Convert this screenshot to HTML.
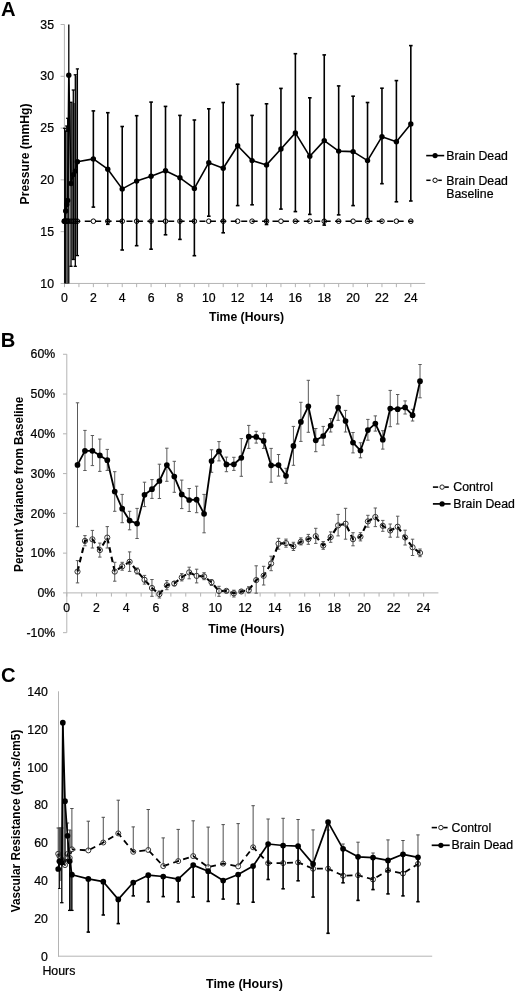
<!DOCTYPE html>
<html lang="en">
<head>
<meta charset="utf-8">
<title>Figure: pressure, percent variance and vascular resistance over time</title>
<style>
html,body{margin:0;padding:0;background:#fff;}
svg{display:block;}
svg text{font-family:"Liberation Sans", Helvetica, Arial, sans-serif;fill:#000;}
</style>
</head>
<body>
<svg width="516" height="992" viewBox="0 0 516 992">
<rect x="0" y="0" width="516" height="992" fill="#fff"/>
<g id="chartA">
<text x="1" y="15.8" font-size="20.2" text-anchor="start" font-weight="bold">A</text>
<line x1="64.4" y1="24.4" x2="64.4" y2="283.95" stroke="#b4b4b4" stroke-width="1"/>
<line x1="63.9" y1="283.45" x2="425.2" y2="283.45" stroke="#b4b4b4" stroke-width="1"/>
<line x1="60.6" y1="283.45" x2="64.4" y2="283.45" stroke="#b4b4b4" stroke-width="1"/>
<text x="54" y="287.65" font-size="12" text-anchor="end" font-weight="normal" textLength="13.68" lengthAdjust="spacingAndGlyphs" stroke="#000" stroke-width="0.22">10</text>
<line x1="60.6" y1="231.66" x2="64.4" y2="231.66" stroke="#b4b4b4" stroke-width="1"/>
<text x="54" y="235.86" font-size="12" text-anchor="end" font-weight="normal" textLength="13.68" lengthAdjust="spacingAndGlyphs" stroke="#000" stroke-width="0.22">15</text>
<line x1="60.6" y1="179.87" x2="64.4" y2="179.87" stroke="#b4b4b4" stroke-width="1"/>
<text x="54" y="184.07" font-size="12" text-anchor="end" font-weight="normal" textLength="13.68" lengthAdjust="spacingAndGlyphs" stroke="#000" stroke-width="0.22">20</text>
<line x1="60.6" y1="128.08" x2="64.4" y2="128.08" stroke="#b4b4b4" stroke-width="1"/>
<text x="54" y="132.28" font-size="12" text-anchor="end" font-weight="normal" textLength="13.68" lengthAdjust="spacingAndGlyphs" stroke="#000" stroke-width="0.22">25</text>
<line x1="60.6" y1="76.29" x2="64.4" y2="76.29" stroke="#b4b4b4" stroke-width="1"/>
<text x="54" y="80.49" font-size="12" text-anchor="end" font-weight="normal" textLength="13.68" lengthAdjust="spacingAndGlyphs" stroke="#000" stroke-width="0.22">30</text>
<line x1="60.6" y1="24.5" x2="64.4" y2="24.5" stroke="#b4b4b4" stroke-width="1"/>
<text x="54" y="28.7" font-size="12" text-anchor="end" font-weight="normal" textLength="13.68" lengthAdjust="spacingAndGlyphs" stroke="#000" stroke-width="0.22">35</text>
<line x1="64.5" y1="283.45" x2="64.5" y2="287.15" stroke="#b4b4b4" stroke-width="1"/>
<text x="64.5" y="301.8" font-size="12" text-anchor="middle" font-weight="normal" textLength="6.84" lengthAdjust="spacingAndGlyphs" stroke="#000" stroke-width="0.22">0</text>
<line x1="78.93" y1="283.45" x2="78.93" y2="287.15" stroke="#b4b4b4" stroke-width="1"/>
<line x1="93.36" y1="283.45" x2="93.36" y2="287.15" stroke="#b4b4b4" stroke-width="1"/>
<text x="93.36" y="301.8" font-size="12" text-anchor="middle" font-weight="normal" textLength="6.84" lengthAdjust="spacingAndGlyphs" stroke="#000" stroke-width="0.22">2</text>
<line x1="107.79" y1="283.45" x2="107.79" y2="287.15" stroke="#b4b4b4" stroke-width="1"/>
<line x1="122.22" y1="283.45" x2="122.22" y2="287.15" stroke="#b4b4b4" stroke-width="1"/>
<text x="122.22" y="301.8" font-size="12" text-anchor="middle" font-weight="normal" textLength="6.84" lengthAdjust="spacingAndGlyphs" stroke="#000" stroke-width="0.22">4</text>
<line x1="136.65" y1="283.45" x2="136.65" y2="287.15" stroke="#b4b4b4" stroke-width="1"/>
<line x1="151.08" y1="283.45" x2="151.08" y2="287.15" stroke="#b4b4b4" stroke-width="1"/>
<text x="151.08" y="301.8" font-size="12" text-anchor="middle" font-weight="normal" textLength="6.84" lengthAdjust="spacingAndGlyphs" stroke="#000" stroke-width="0.22">6</text>
<line x1="165.51" y1="283.45" x2="165.51" y2="287.15" stroke="#b4b4b4" stroke-width="1"/>
<line x1="179.94" y1="283.45" x2="179.94" y2="287.15" stroke="#b4b4b4" stroke-width="1"/>
<text x="179.94" y="301.8" font-size="12" text-anchor="middle" font-weight="normal" textLength="6.84" lengthAdjust="spacingAndGlyphs" stroke="#000" stroke-width="0.22">8</text>
<line x1="194.37" y1="283.45" x2="194.37" y2="287.15" stroke="#b4b4b4" stroke-width="1"/>
<line x1="208.8" y1="283.45" x2="208.8" y2="287.15" stroke="#b4b4b4" stroke-width="1"/>
<text x="208.8" y="301.8" font-size="12" text-anchor="middle" font-weight="normal" textLength="13.68" lengthAdjust="spacingAndGlyphs" stroke="#000" stroke-width="0.22">10</text>
<line x1="223.23" y1="283.45" x2="223.23" y2="287.15" stroke="#b4b4b4" stroke-width="1"/>
<line x1="237.66" y1="283.45" x2="237.66" y2="287.15" stroke="#b4b4b4" stroke-width="1"/>
<text x="237.66" y="301.8" font-size="12" text-anchor="middle" font-weight="normal" textLength="13.68" lengthAdjust="spacingAndGlyphs" stroke="#000" stroke-width="0.22">12</text>
<line x1="252.09" y1="283.45" x2="252.09" y2="287.15" stroke="#b4b4b4" stroke-width="1"/>
<line x1="266.52" y1="283.45" x2="266.52" y2="287.15" stroke="#b4b4b4" stroke-width="1"/>
<text x="266.52" y="301.8" font-size="12" text-anchor="middle" font-weight="normal" textLength="13.68" lengthAdjust="spacingAndGlyphs" stroke="#000" stroke-width="0.22">14</text>
<line x1="280.95" y1="283.45" x2="280.95" y2="287.15" stroke="#b4b4b4" stroke-width="1"/>
<line x1="295.38" y1="283.45" x2="295.38" y2="287.15" stroke="#b4b4b4" stroke-width="1"/>
<text x="295.38" y="301.8" font-size="12" text-anchor="middle" font-weight="normal" textLength="13.68" lengthAdjust="spacingAndGlyphs" stroke="#000" stroke-width="0.22">16</text>
<line x1="309.81" y1="283.45" x2="309.81" y2="287.15" stroke="#b4b4b4" stroke-width="1"/>
<line x1="324.24" y1="283.45" x2="324.24" y2="287.15" stroke="#b4b4b4" stroke-width="1"/>
<text x="324.24" y="301.8" font-size="12" text-anchor="middle" font-weight="normal" textLength="13.68" lengthAdjust="spacingAndGlyphs" stroke="#000" stroke-width="0.22">18</text>
<line x1="338.67" y1="283.45" x2="338.67" y2="287.15" stroke="#b4b4b4" stroke-width="1"/>
<line x1="353.1" y1="283.45" x2="353.1" y2="287.15" stroke="#b4b4b4" stroke-width="1"/>
<text x="353.1" y="301.8" font-size="12" text-anchor="middle" font-weight="normal" textLength="13.68" lengthAdjust="spacingAndGlyphs" stroke="#000" stroke-width="0.22">20</text>
<line x1="367.53" y1="283.45" x2="367.53" y2="287.15" stroke="#b4b4b4" stroke-width="1"/>
<line x1="381.96" y1="283.45" x2="381.96" y2="287.15" stroke="#b4b4b4" stroke-width="1"/>
<text x="381.96" y="301.8" font-size="12" text-anchor="middle" font-weight="normal" textLength="13.68" lengthAdjust="spacingAndGlyphs" stroke="#000" stroke-width="0.22">22</text>
<line x1="396.39" y1="283.45" x2="396.39" y2="287.15" stroke="#b4b4b4" stroke-width="1"/>
<line x1="410.82" y1="283.45" x2="410.82" y2="287.15" stroke="#b4b4b4" stroke-width="1"/>
<text x="410.82" y="301.8" font-size="12" text-anchor="middle" font-weight="normal" textLength="13.68" lengthAdjust="spacingAndGlyphs" stroke="#000" stroke-width="0.22">24</text>
<text x="246.5" y="321.2" font-size="12" text-anchor="middle" font-weight="bold" textLength="75.2" lengthAdjust="spacingAndGlyphs">Time (Hours)</text>
<text x="29.3" y="154" font-size="12" text-anchor="middle" font-weight="bold" transform="rotate(-90 29.3 154)" textLength="100.8" lengthAdjust="spacingAndGlyphs">Pressure (mmHg)</text>
<rect x="71.2" y="103" width="3.8" height="156.5" fill="#6a6a6a"/>
<rect x="75.6" y="76" width="1.6" height="179.6" fill="#777"/>
<line x1="63.9" y1="221.2" x2="412.9" y2="221.2" stroke="#000" stroke-width="1.5" stroke-dasharray="6 4.43"/>
<line x1="64.7" y1="128.3" x2="64.7" y2="283.45" stroke="#000" stroke-width="1.3"/>
<line x1="63.1" y1="128.3" x2="66.3" y2="128.3" stroke="#000" stroke-width="1.3"/>
<line x1="65.7" y1="131" x2="65.7" y2="283.45" stroke="#000" stroke-width="1.3"/>
<line x1="64.1" y1="131" x2="67.3" y2="131" stroke="#000" stroke-width="1.3"/>
<line x1="66.75" y1="126" x2="66.75" y2="283.45" stroke="#000" stroke-width="1.3"/>
<line x1="65.15" y1="126" x2="68.35" y2="126" stroke="#000" stroke-width="1.3"/>
<line x1="67.7" y1="118.3" x2="67.7" y2="283.45" stroke="#000" stroke-width="1.3"/>
<line x1="66.1" y1="118.3" x2="69.3" y2="118.3" stroke="#000" stroke-width="1.3"/>
<line x1="68.8" y1="24.4" x2="68.8" y2="283.45" stroke="#000" stroke-width="1.3"/>
<line x1="71" y1="102.3" x2="71" y2="266.3" stroke="#000" stroke-width="1.3"/>
<line x1="69.4" y1="102.3" x2="72.6" y2="102.3" stroke="#000" stroke-width="1.3"/>
<line x1="69.4" y1="266.3" x2="72.6" y2="266.3" stroke="#000" stroke-width="1.3"/>
<line x1="73.3" y1="90" x2="73.3" y2="259.5" stroke="#000" stroke-width="1.3"/>
<line x1="71.7" y1="90" x2="74.9" y2="90" stroke="#000" stroke-width="1.3"/>
<line x1="71.7" y1="259.5" x2="74.9" y2="259.5" stroke="#000" stroke-width="1.3"/>
<line x1="75.3" y1="74.8" x2="75.3" y2="266.3" stroke="#000" stroke-width="1.3"/>
<line x1="73.7" y1="74.8" x2="76.9" y2="74.8" stroke="#000" stroke-width="1.3"/>
<line x1="73.7" y1="266.3" x2="76.9" y2="266.3" stroke="#000" stroke-width="1.3"/>
<line x1="77.4" y1="68.9" x2="77.4" y2="255.6" stroke="#000" stroke-width="1.3"/>
<line x1="75.8" y1="68.9" x2="79" y2="68.9" stroke="#000" stroke-width="1.3"/>
<line x1="75.8" y1="255.6" x2="79" y2="255.6" stroke="#000" stroke-width="1.3"/>
<line x1="93.36" y1="110.9" x2="93.36" y2="207.1" stroke="#000" stroke-width="1.6"/>
<line x1="91.56" y1="110.9" x2="95.16" y2="110.9" stroke="#000" stroke-width="1.6"/>
<line x1="91.56" y1="207.1" x2="95.16" y2="207.1" stroke="#000" stroke-width="1.6"/>
<line x1="107.79" y1="112.7" x2="107.79" y2="224.3" stroke="#000" stroke-width="1.6"/>
<line x1="105.99" y1="112.7" x2="109.59" y2="112.7" stroke="#000" stroke-width="1.6"/>
<line x1="105.99" y1="224.3" x2="109.59" y2="224.3" stroke="#000" stroke-width="1.6"/>
<line x1="122.22" y1="126.5" x2="122.22" y2="250" stroke="#000" stroke-width="1.6"/>
<line x1="120.42" y1="126.5" x2="124.02" y2="126.5" stroke="#000" stroke-width="1.6"/>
<line x1="120.42" y1="250" x2="124.02" y2="250" stroke="#000" stroke-width="1.6"/>
<line x1="136.65" y1="115.7" x2="136.65" y2="245.7" stroke="#000" stroke-width="1.6"/>
<line x1="134.85" y1="115.7" x2="138.45" y2="115.7" stroke="#000" stroke-width="1.6"/>
<line x1="134.85" y1="245.7" x2="138.45" y2="245.7" stroke="#000" stroke-width="1.6"/>
<line x1="151.08" y1="102.1" x2="151.08" y2="249.2" stroke="#000" stroke-width="1.6"/>
<line x1="149.28" y1="102.1" x2="152.88" y2="102.1" stroke="#000" stroke-width="1.6"/>
<line x1="149.28" y1="249.2" x2="152.88" y2="249.2" stroke="#000" stroke-width="1.6"/>
<line x1="165.51" y1="106.4" x2="165.51" y2="234.8" stroke="#000" stroke-width="1.6"/>
<line x1="163.71" y1="106.4" x2="167.31" y2="106.4" stroke="#000" stroke-width="1.6"/>
<line x1="163.71" y1="234.8" x2="167.31" y2="234.8" stroke="#000" stroke-width="1.6"/>
<line x1="179.94" y1="115.4" x2="179.94" y2="239.4" stroke="#000" stroke-width="1.6"/>
<line x1="178.14" y1="115.4" x2="181.74" y2="115.4" stroke="#000" stroke-width="1.6"/>
<line x1="178.14" y1="239.4" x2="181.74" y2="239.4" stroke="#000" stroke-width="1.6"/>
<line x1="194.37" y1="120" x2="194.37" y2="255.7" stroke="#000" stroke-width="1.6"/>
<line x1="192.57" y1="120" x2="196.17" y2="120" stroke="#000" stroke-width="1.6"/>
<line x1="192.57" y1="255.7" x2="196.17" y2="255.7" stroke="#000" stroke-width="1.6"/>
<line x1="208.8" y1="108.8" x2="208.8" y2="216.2" stroke="#000" stroke-width="1.6"/>
<line x1="207" y1="108.8" x2="210.6" y2="108.8" stroke="#000" stroke-width="1.6"/>
<line x1="207" y1="216.2" x2="210.6" y2="216.2" stroke="#000" stroke-width="1.6"/>
<line x1="223.23" y1="102.5" x2="223.23" y2="232.8" stroke="#000" stroke-width="1.6"/>
<line x1="221.43" y1="102.5" x2="225.03" y2="102.5" stroke="#000" stroke-width="1.6"/>
<line x1="221.43" y1="232.8" x2="225.03" y2="232.8" stroke="#000" stroke-width="1.6"/>
<line x1="237.66" y1="84.2" x2="237.66" y2="205.6" stroke="#000" stroke-width="1.6"/>
<line x1="235.86" y1="84.2" x2="239.46" y2="84.2" stroke="#000" stroke-width="1.6"/>
<line x1="235.86" y1="205.6" x2="239.46" y2="205.6" stroke="#000" stroke-width="1.6"/>
<line x1="252.09" y1="115.4" x2="252.09" y2="204.8" stroke="#000" stroke-width="1.6"/>
<line x1="250.29" y1="115.4" x2="253.89" y2="115.4" stroke="#000" stroke-width="1.6"/>
<line x1="250.29" y1="204.8" x2="253.89" y2="204.8" stroke="#000" stroke-width="1.6"/>
<line x1="266.52" y1="103.8" x2="266.52" y2="224.5" stroke="#000" stroke-width="1.6"/>
<line x1="264.72" y1="103.8" x2="268.32" y2="103.8" stroke="#000" stroke-width="1.6"/>
<line x1="264.72" y1="224.5" x2="268.32" y2="224.5" stroke="#000" stroke-width="1.6"/>
<line x1="280.95" y1="88.4" x2="280.95" y2="209.1" stroke="#000" stroke-width="1.6"/>
<line x1="279.15" y1="88.4" x2="282.75" y2="88.4" stroke="#000" stroke-width="1.6"/>
<line x1="279.15" y1="209.1" x2="282.75" y2="209.1" stroke="#000" stroke-width="1.6"/>
<line x1="295.38" y1="53.7" x2="295.38" y2="211.6" stroke="#000" stroke-width="1.6"/>
<line x1="293.58" y1="53.7" x2="297.18" y2="53.7" stroke="#000" stroke-width="1.6"/>
<line x1="293.58" y1="211.6" x2="297.18" y2="211.6" stroke="#000" stroke-width="1.6"/>
<line x1="309.81" y1="97.8" x2="309.81" y2="214.4" stroke="#000" stroke-width="1.6"/>
<line x1="308.01" y1="97.8" x2="311.61" y2="97.8" stroke="#000" stroke-width="1.6"/>
<line x1="308.01" y1="214.4" x2="311.61" y2="214.4" stroke="#000" stroke-width="1.6"/>
<line x1="324.24" y1="54.9" x2="324.24" y2="225.1" stroke="#000" stroke-width="1.6"/>
<line x1="322.44" y1="54.9" x2="326.04" y2="54.9" stroke="#000" stroke-width="1.6"/>
<line x1="322.44" y1="225.1" x2="326.04" y2="225.1" stroke="#000" stroke-width="1.6"/>
<line x1="338.67" y1="85.9" x2="338.67" y2="214.9" stroke="#000" stroke-width="1.6"/>
<line x1="336.87" y1="85.9" x2="340.47" y2="85.9" stroke="#000" stroke-width="1.6"/>
<line x1="336.87" y1="214.9" x2="340.47" y2="214.9" stroke="#000" stroke-width="1.6"/>
<line x1="353.1" y1="96.2" x2="353.1" y2="205.6" stroke="#000" stroke-width="1.6"/>
<line x1="351.3" y1="96.2" x2="354.9" y2="96.2" stroke="#000" stroke-width="1.6"/>
<line x1="351.3" y1="205.6" x2="354.9" y2="205.6" stroke="#000" stroke-width="1.6"/>
<line x1="367.53" y1="102.5" x2="367.53" y2="218.7" stroke="#000" stroke-width="1.6"/>
<line x1="365.73" y1="102.5" x2="369.33" y2="102.5" stroke="#000" stroke-width="1.6"/>
<line x1="365.73" y1="218.7" x2="369.33" y2="218.7" stroke="#000" stroke-width="1.6"/>
<line x1="381.96" y1="88.2" x2="381.96" y2="183.7" stroke="#000" stroke-width="1.6"/>
<line x1="380.16" y1="88.2" x2="383.76" y2="88.2" stroke="#000" stroke-width="1.6"/>
<line x1="380.16" y1="183.7" x2="383.76" y2="183.7" stroke="#000" stroke-width="1.6"/>
<line x1="396.39" y1="80.6" x2="396.39" y2="201.8" stroke="#000" stroke-width="1.6"/>
<line x1="394.59" y1="80.6" x2="398.19" y2="80.6" stroke="#000" stroke-width="1.6"/>
<line x1="394.59" y1="201.8" x2="398.19" y2="201.8" stroke="#000" stroke-width="1.6"/>
<line x1="410.82" y1="45.6" x2="410.82" y2="201" stroke="#000" stroke-width="1.6"/>
<line x1="409.02" y1="45.6" x2="412.62" y2="45.6" stroke="#000" stroke-width="1.6"/>
<line x1="409.02" y1="201" x2="412.62" y2="201" stroke="#000" stroke-width="1.6"/>
<rect x="66.2" y="132" width="1.4" height="151.4" fill="#777"/>
<polyline points="64.7,221.2 65.7,211 66.75,204.5 67.7,200.5 68.8,75.2 71,183.5 73.3,174.6 75.3,171.1 77.4,161.8 93.36,158.9 107.79,169.2 122.22,188.9 136.65,181.1 151.08,176.3 165.51,170.8 179.94,177.8 194.37,188.4 208.8,162.7 223.23,168.2 237.66,145.8 252.09,160.6 266.52,164.9 280.95,149 295.38,132.9 309.81,156.3 324.24,140.6 338.67,151.1 353.1,151.6 367.53,160.6 381.96,136.7 396.39,141.7 410.82,123.9" fill="none" stroke="#000" stroke-width="1.6" stroke-linejoin="round"/>
<circle cx="64.7" cy="221.2" r="2.7" fill="#000"/>
<circle cx="65.7" cy="211" r="2.7" fill="#000"/>
<circle cx="66.75" cy="204.5" r="2.7" fill="#000"/>
<circle cx="67.7" cy="200.5" r="2.7" fill="#000"/>
<circle cx="68.8" cy="75.2" r="2.7" fill="#000"/>
<circle cx="71" cy="183.5" r="2.7" fill="#000"/>
<circle cx="73.3" cy="174.6" r="2.7" fill="#000"/>
<circle cx="75.3" cy="171.1" r="2.7" fill="#000"/>
<circle cx="77.4" cy="161.8" r="2.7" fill="#000"/>
<circle cx="93.36" cy="158.9" r="2.7" fill="#000"/>
<circle cx="107.79" cy="169.2" r="2.7" fill="#000"/>
<circle cx="122.22" cy="188.9" r="2.7" fill="#000"/>
<circle cx="136.65" cy="181.1" r="2.7" fill="#000"/>
<circle cx="151.08" cy="176.3" r="2.7" fill="#000"/>
<circle cx="165.51" cy="170.8" r="2.7" fill="#000"/>
<circle cx="179.94" cy="177.8" r="2.7" fill="#000"/>
<circle cx="194.37" cy="188.4" r="2.7" fill="#000"/>
<circle cx="208.8" cy="162.7" r="2.7" fill="#000"/>
<circle cx="223.23" cy="168.2" r="2.7" fill="#000"/>
<circle cx="237.66" cy="145.8" r="2.7" fill="#000"/>
<circle cx="252.09" cy="160.6" r="2.7" fill="#000"/>
<circle cx="266.52" cy="164.9" r="2.7" fill="#000"/>
<circle cx="280.95" cy="149" r="2.7" fill="#000"/>
<circle cx="295.38" cy="132.9" r="2.7" fill="#000"/>
<circle cx="309.81" cy="156.3" r="2.7" fill="#000"/>
<circle cx="324.24" cy="140.6" r="2.7" fill="#000"/>
<circle cx="338.67" cy="151.1" r="2.7" fill="#000"/>
<circle cx="353.1" cy="151.6" r="2.7" fill="#000"/>
<circle cx="367.53" cy="160.6" r="2.7" fill="#000"/>
<circle cx="381.96" cy="136.7" r="2.7" fill="#000"/>
<circle cx="396.39" cy="141.7" r="2.7" fill="#000"/>
<circle cx="410.82" cy="123.9" r="2.7" fill="#000"/>
<circle cx="64.7" cy="221.2" r="2.3" fill="none" stroke="#000" stroke-width="1"/>
<circle cx="65.7" cy="221.2" r="2.3" fill="none" stroke="#000" stroke-width="1"/>
<circle cx="66.75" cy="221.2" r="2.3" fill="none" stroke="#000" stroke-width="1"/>
<circle cx="67.7" cy="221.2" r="2.3" fill="none" stroke="#000" stroke-width="1"/>
<circle cx="68.8" cy="221.2" r="2.3" fill="none" stroke="#000" stroke-width="1"/>
<circle cx="71" cy="221.2" r="2.3" fill="none" stroke="#000" stroke-width="1"/>
<circle cx="73.3" cy="221.2" r="2.3" fill="none" stroke="#000" stroke-width="1"/>
<circle cx="75.3" cy="221.2" r="2.3" fill="none" stroke="#000" stroke-width="1"/>
<circle cx="77.4" cy="221.2" r="2.3" fill="none" stroke="#000" stroke-width="1"/>
<circle cx="93.36" cy="221.2" r="2.3" fill="none" stroke="#000" stroke-width="1"/>
<circle cx="107.79" cy="221.2" r="2.3" fill="none" stroke="#000" stroke-width="1"/>
<circle cx="122.22" cy="221.2" r="2.3" fill="none" stroke="#000" stroke-width="1"/>
<circle cx="136.65" cy="221.2" r="2.3" fill="none" stroke="#000" stroke-width="1"/>
<circle cx="151.08" cy="221.2" r="2.3" fill="none" stroke="#000" stroke-width="1"/>
<circle cx="165.51" cy="221.2" r="2.3" fill="none" stroke="#000" stroke-width="1"/>
<circle cx="179.94" cy="221.2" r="2.3" fill="none" stroke="#000" stroke-width="1"/>
<circle cx="194.37" cy="221.2" r="2.3" fill="none" stroke="#000" stroke-width="1"/>
<circle cx="208.8" cy="221.2" r="2.3" fill="none" stroke="#000" stroke-width="1"/>
<circle cx="223.23" cy="221.2" r="2.3" fill="none" stroke="#000" stroke-width="1"/>
<circle cx="237.66" cy="221.2" r="2.3" fill="none" stroke="#000" stroke-width="1"/>
<circle cx="252.09" cy="221.2" r="2.3" fill="none" stroke="#000" stroke-width="1"/>
<circle cx="266.52" cy="221.2" r="2.3" fill="none" stroke="#000" stroke-width="1"/>
<circle cx="280.95" cy="221.2" r="2.3" fill="none" stroke="#000" stroke-width="1"/>
<circle cx="295.38" cy="221.2" r="2.3" fill="none" stroke="#000" stroke-width="1"/>
<circle cx="309.81" cy="221.2" r="2.3" fill="none" stroke="#000" stroke-width="1"/>
<circle cx="324.24" cy="221.2" r="2.3" fill="none" stroke="#000" stroke-width="1"/>
<circle cx="338.67" cy="221.2" r="2.3" fill="none" stroke="#000" stroke-width="1"/>
<circle cx="353.1" cy="221.2" r="2.3" fill="none" stroke="#000" stroke-width="1"/>
<circle cx="367.53" cy="221.2" r="2.3" fill="none" stroke="#000" stroke-width="1"/>
<circle cx="381.96" cy="221.2" r="2.3" fill="none" stroke="#000" stroke-width="1"/>
<circle cx="396.39" cy="221.2" r="2.3" fill="none" stroke="#000" stroke-width="1"/>
<circle cx="410.82" cy="221.2" r="2.3" fill="none" stroke="#000" stroke-width="1"/>
<circle cx="64.2" cy="221.2" r="2.7" fill="#000"/>
<line x1="426.2" y1="155.6" x2="444.2" y2="155.6" stroke="#000" stroke-width="1.6"/>
<circle cx="435.1" cy="155.6" r="2.6" fill="#000"/>
<text x="446.3" y="160" font-size="12" text-anchor="start" font-weight="normal" textLength="61.54" lengthAdjust="spacingAndGlyphs" stroke="#000" stroke-width="0.22">Brain Dead</text>
<line x1="426.3" y1="180.3" x2="430.6" y2="180.3" stroke="#000" stroke-width="1.5"/>
<line x1="438.2" y1="180.3" x2="441.8" y2="180.3" stroke="#000" stroke-width="1.5"/>
<circle cx="435.1" cy="180.3" r="2.2" fill="#fff" stroke="#000" stroke-width="1"/>
<text x="446.3" y="184.6" font-size="12" text-anchor="start" font-weight="normal" textLength="61.54" lengthAdjust="spacingAndGlyphs" stroke="#000" stroke-width="0.22">Brain Dead</text>
<text x="446.3" y="197.9" font-size="12" text-anchor="start" font-weight="normal" textLength="47.18" lengthAdjust="spacingAndGlyphs" stroke="#000" stroke-width="0.22">Baseline</text>
</g>
<g id="chartB">
<text x="0.8" y="347" font-size="20.2" text-anchor="start" font-weight="bold">B</text>
<line x1="66.8" y1="354.2" x2="66.8" y2="632.6" stroke="#b4b4b4" stroke-width="1"/>
<line x1="66.3" y1="592.9" x2="438.4" y2="592.9" stroke="#b4b4b4" stroke-width="1"/>
<line x1="63" y1="632.67" x2="66.8" y2="632.67" stroke="#b4b4b4" stroke-width="1"/>
<text x="55.2" y="636.87" font-size="12" text-anchor="end" font-weight="normal" textLength="28.72" lengthAdjust="spacingAndGlyphs" stroke="#000" stroke-width="0.22">-10%</text>
<line x1="63" y1="592.9" x2="66.8" y2="592.9" stroke="#b4b4b4" stroke-width="1"/>
<text x="55.2" y="597.1" font-size="12" text-anchor="end" font-weight="normal" textLength="17.78" lengthAdjust="spacingAndGlyphs" stroke="#000" stroke-width="0.22">0%</text>
<line x1="63" y1="553.13" x2="66.8" y2="553.13" stroke="#b4b4b4" stroke-width="1"/>
<text x="55.2" y="557.33" font-size="12" text-anchor="end" font-weight="normal" textLength="24.62" lengthAdjust="spacingAndGlyphs" stroke="#000" stroke-width="0.22">10%</text>
<line x1="63" y1="513.36" x2="66.8" y2="513.36" stroke="#b4b4b4" stroke-width="1"/>
<text x="55.2" y="517.56" font-size="12" text-anchor="end" font-weight="normal" textLength="24.62" lengthAdjust="spacingAndGlyphs" stroke="#000" stroke-width="0.22">20%</text>
<line x1="63" y1="473.59" x2="66.8" y2="473.59" stroke="#b4b4b4" stroke-width="1"/>
<text x="55.2" y="477.79" font-size="12" text-anchor="end" font-weight="normal" textLength="24.62" lengthAdjust="spacingAndGlyphs" stroke="#000" stroke-width="0.22">30%</text>
<line x1="63" y1="433.82" x2="66.8" y2="433.82" stroke="#b4b4b4" stroke-width="1"/>
<text x="55.2" y="438.02" font-size="12" text-anchor="end" font-weight="normal" textLength="24.62" lengthAdjust="spacingAndGlyphs" stroke="#000" stroke-width="0.22">40%</text>
<line x1="63" y1="394.05" x2="66.8" y2="394.05" stroke="#b4b4b4" stroke-width="1"/>
<text x="55.2" y="398.25" font-size="12" text-anchor="end" font-weight="normal" textLength="24.62" lengthAdjust="spacingAndGlyphs" stroke="#000" stroke-width="0.22">50%</text>
<line x1="63" y1="354.28" x2="66.8" y2="354.28" stroke="#b4b4b4" stroke-width="1"/>
<text x="55.2" y="358.48" font-size="12" text-anchor="end" font-weight="normal" textLength="24.62" lengthAdjust="spacingAndGlyphs" stroke="#000" stroke-width="0.22">60%</text>
<line x1="66.8" y1="592.9" x2="66.8" y2="596.6" stroke="#b4b4b4" stroke-width="1"/>
<text x="66.6" y="611.6" font-size="12" text-anchor="middle" font-weight="normal" textLength="6.84" lengthAdjust="spacingAndGlyphs" stroke="#000" stroke-width="0.22">0</text>
<line x1="81.67" y1="592.9" x2="81.67" y2="596.6" stroke="#b4b4b4" stroke-width="1"/>
<line x1="96.54" y1="592.9" x2="96.54" y2="596.6" stroke="#b4b4b4" stroke-width="1"/>
<text x="96.34" y="611.6" font-size="12" text-anchor="middle" font-weight="normal" textLength="6.84" lengthAdjust="spacingAndGlyphs" stroke="#000" stroke-width="0.22">2</text>
<line x1="111.41" y1="592.9" x2="111.41" y2="596.6" stroke="#b4b4b4" stroke-width="1"/>
<line x1="126.28" y1="592.9" x2="126.28" y2="596.6" stroke="#b4b4b4" stroke-width="1"/>
<text x="126.08" y="611.6" font-size="12" text-anchor="middle" font-weight="normal" textLength="6.84" lengthAdjust="spacingAndGlyphs" stroke="#000" stroke-width="0.22">4</text>
<line x1="141.15" y1="592.9" x2="141.15" y2="596.6" stroke="#b4b4b4" stroke-width="1"/>
<line x1="156.02" y1="592.9" x2="156.02" y2="596.6" stroke="#b4b4b4" stroke-width="1"/>
<text x="155.82" y="611.6" font-size="12" text-anchor="middle" font-weight="normal" textLength="6.84" lengthAdjust="spacingAndGlyphs" stroke="#000" stroke-width="0.22">6</text>
<line x1="170.89" y1="592.9" x2="170.89" y2="596.6" stroke="#b4b4b4" stroke-width="1"/>
<line x1="185.76" y1="592.9" x2="185.76" y2="596.6" stroke="#b4b4b4" stroke-width="1"/>
<text x="185.56" y="611.6" font-size="12" text-anchor="middle" font-weight="normal" textLength="6.84" lengthAdjust="spacingAndGlyphs" stroke="#000" stroke-width="0.22">8</text>
<line x1="200.63" y1="592.9" x2="200.63" y2="596.6" stroke="#b4b4b4" stroke-width="1"/>
<line x1="215.5" y1="592.9" x2="215.5" y2="596.6" stroke="#b4b4b4" stroke-width="1"/>
<text x="215.3" y="611.6" font-size="12" text-anchor="middle" font-weight="normal" textLength="13.68" lengthAdjust="spacingAndGlyphs" stroke="#000" stroke-width="0.22">10</text>
<line x1="230.37" y1="592.9" x2="230.37" y2="596.6" stroke="#b4b4b4" stroke-width="1"/>
<line x1="245.24" y1="592.9" x2="245.24" y2="596.6" stroke="#b4b4b4" stroke-width="1"/>
<text x="245.04" y="611.6" font-size="12" text-anchor="middle" font-weight="normal" textLength="13.68" lengthAdjust="spacingAndGlyphs" stroke="#000" stroke-width="0.22">12</text>
<line x1="260.11" y1="592.9" x2="260.11" y2="596.6" stroke="#b4b4b4" stroke-width="1"/>
<line x1="274.98" y1="592.9" x2="274.98" y2="596.6" stroke="#b4b4b4" stroke-width="1"/>
<text x="274.78" y="611.6" font-size="12" text-anchor="middle" font-weight="normal" textLength="13.68" lengthAdjust="spacingAndGlyphs" stroke="#000" stroke-width="0.22">14</text>
<line x1="289.85" y1="592.9" x2="289.85" y2="596.6" stroke="#b4b4b4" stroke-width="1"/>
<line x1="304.72" y1="592.9" x2="304.72" y2="596.6" stroke="#b4b4b4" stroke-width="1"/>
<text x="304.52" y="611.6" font-size="12" text-anchor="middle" font-weight="normal" textLength="13.68" lengthAdjust="spacingAndGlyphs" stroke="#000" stroke-width="0.22">16</text>
<line x1="319.59" y1="592.9" x2="319.59" y2="596.6" stroke="#b4b4b4" stroke-width="1"/>
<line x1="334.46" y1="592.9" x2="334.46" y2="596.6" stroke="#b4b4b4" stroke-width="1"/>
<text x="334.26" y="611.6" font-size="12" text-anchor="middle" font-weight="normal" textLength="13.68" lengthAdjust="spacingAndGlyphs" stroke="#000" stroke-width="0.22">18</text>
<line x1="349.33" y1="592.9" x2="349.33" y2="596.6" stroke="#b4b4b4" stroke-width="1"/>
<line x1="364.2" y1="592.9" x2="364.2" y2="596.6" stroke="#b4b4b4" stroke-width="1"/>
<text x="364" y="611.6" font-size="12" text-anchor="middle" font-weight="normal" textLength="13.68" lengthAdjust="spacingAndGlyphs" stroke="#000" stroke-width="0.22">20</text>
<line x1="379.07" y1="592.9" x2="379.07" y2="596.6" stroke="#b4b4b4" stroke-width="1"/>
<line x1="393.94" y1="592.9" x2="393.94" y2="596.6" stroke="#b4b4b4" stroke-width="1"/>
<text x="393.74" y="611.6" font-size="12" text-anchor="middle" font-weight="normal" textLength="13.68" lengthAdjust="spacingAndGlyphs" stroke="#000" stroke-width="0.22">22</text>
<line x1="408.81" y1="592.9" x2="408.81" y2="596.6" stroke="#b4b4b4" stroke-width="1"/>
<line x1="423.68" y1="592.9" x2="423.68" y2="596.6" stroke="#b4b4b4" stroke-width="1"/>
<text x="423.48" y="611.6" font-size="12" text-anchor="middle" font-weight="normal" textLength="13.68" lengthAdjust="spacingAndGlyphs" stroke="#000" stroke-width="0.22">24</text>
<text x="246.3" y="633" font-size="12" text-anchor="middle" font-weight="bold" textLength="76.2" lengthAdjust="spacingAndGlyphs">Time (Hours)</text>
<text x="22.6" y="484.3" font-size="12" text-anchor="middle" font-weight="bold" transform="rotate(-90 22.6 484.3)" textLength="175.2" lengthAdjust="spacingAndGlyphs">Percent Variance from Baseline</text>
<line x1="77.5" y1="560.6" x2="77.5" y2="582.9" stroke="#5a5a5a" stroke-width="1"/>
<line x1="75.8" y1="560.6" x2="79.2" y2="560.6" stroke="#5a5a5a" stroke-width="1"/>
<line x1="75.8" y1="582.9" x2="79.2" y2="582.9" stroke="#5a5a5a" stroke-width="1"/>
<line x1="84.95" y1="535.6" x2="84.95" y2="545.8" stroke="#5a5a5a" stroke-width="1"/>
<line x1="83.25" y1="535.6" x2="86.65" y2="535.6" stroke="#5a5a5a" stroke-width="1"/>
<line x1="83.25" y1="545.8" x2="86.65" y2="545.8" stroke="#5a5a5a" stroke-width="1"/>
<line x1="92.39" y1="530.4" x2="92.39" y2="548" stroke="#5a5a5a" stroke-width="1"/>
<line x1="90.69" y1="530.4" x2="94.09" y2="530.4" stroke="#5a5a5a" stroke-width="1"/>
<line x1="90.69" y1="548" x2="94.09" y2="548" stroke="#5a5a5a" stroke-width="1"/>
<line x1="99.84" y1="543.1" x2="99.84" y2="557.1" stroke="#5a5a5a" stroke-width="1"/>
<line x1="98.14" y1="543.1" x2="101.54" y2="543.1" stroke="#5a5a5a" stroke-width="1"/>
<line x1="98.14" y1="557.1" x2="101.54" y2="557.1" stroke="#5a5a5a" stroke-width="1"/>
<line x1="107.28" y1="526.6" x2="107.28" y2="548" stroke="#5a5a5a" stroke-width="1"/>
<line x1="105.58" y1="526.6" x2="108.98" y2="526.6" stroke="#5a5a5a" stroke-width="1"/>
<line x1="105.58" y1="548" x2="108.98" y2="548" stroke="#5a5a5a" stroke-width="1"/>
<line x1="114.73" y1="562.3" x2="114.73" y2="581.2" stroke="#5a5a5a" stroke-width="1"/>
<line x1="113.03" y1="562.3" x2="116.43" y2="562.3" stroke="#5a5a5a" stroke-width="1"/>
<line x1="113.03" y1="581.2" x2="116.43" y2="581.2" stroke="#5a5a5a" stroke-width="1"/>
<line x1="122.18" y1="562.3" x2="122.18" y2="570.2" stroke="#5a5a5a" stroke-width="1"/>
<line x1="120.48" y1="562.3" x2="123.88" y2="562.3" stroke="#5a5a5a" stroke-width="1"/>
<line x1="120.48" y1="570.2" x2="123.88" y2="570.2" stroke="#5a5a5a" stroke-width="1"/>
<line x1="129.62" y1="551.9" x2="129.62" y2="571.4" stroke="#5a5a5a" stroke-width="1"/>
<line x1="127.92" y1="551.9" x2="131.32" y2="551.9" stroke="#5a5a5a" stroke-width="1"/>
<line x1="127.92" y1="571.4" x2="131.32" y2="571.4" stroke="#5a5a5a" stroke-width="1"/>
<line x1="137.07" y1="568" x2="137.07" y2="574" stroke="#5a5a5a" stroke-width="1"/>
<line x1="135.37" y1="568" x2="138.77" y2="568" stroke="#5a5a5a" stroke-width="1"/>
<line x1="135.37" y1="574" x2="138.77" y2="574" stroke="#5a5a5a" stroke-width="1"/>
<line x1="144.51" y1="575.4" x2="144.51" y2="584.1" stroke="#5a5a5a" stroke-width="1"/>
<line x1="142.81" y1="575.4" x2="146.21" y2="575.4" stroke="#5a5a5a" stroke-width="1"/>
<line x1="142.81" y1="584.1" x2="146.21" y2="584.1" stroke="#5a5a5a" stroke-width="1"/>
<line x1="151.96" y1="579.5" x2="151.96" y2="596.3" stroke="#5a5a5a" stroke-width="1"/>
<line x1="150.26" y1="579.5" x2="153.66" y2="579.5" stroke="#5a5a5a" stroke-width="1"/>
<line x1="150.26" y1="596.3" x2="153.66" y2="596.3" stroke="#5a5a5a" stroke-width="1"/>
<line x1="159.41" y1="591" x2="159.41" y2="598" stroke="#5a5a5a" stroke-width="1"/>
<line x1="157.71" y1="591" x2="161.11" y2="591" stroke="#5a5a5a" stroke-width="1"/>
<line x1="157.71" y1="598" x2="161.11" y2="598" stroke="#5a5a5a" stroke-width="1"/>
<line x1="166.85" y1="580.6" x2="166.85" y2="589.7" stroke="#5a5a5a" stroke-width="1"/>
<line x1="165.15" y1="580.6" x2="168.55" y2="580.6" stroke="#5a5a5a" stroke-width="1"/>
<line x1="165.15" y1="589.7" x2="168.55" y2="589.7" stroke="#5a5a5a" stroke-width="1"/>
<line x1="174.3" y1="581.5" x2="174.3" y2="585.8" stroke="#5a5a5a" stroke-width="1"/>
<line x1="172.6" y1="581.5" x2="176" y2="581.5" stroke="#5a5a5a" stroke-width="1"/>
<line x1="172.6" y1="585.8" x2="176" y2="585.8" stroke="#5a5a5a" stroke-width="1"/>
<line x1="181.74" y1="573.6" x2="181.74" y2="580.9" stroke="#5a5a5a" stroke-width="1"/>
<line x1="180.04" y1="573.6" x2="183.44" y2="573.6" stroke="#5a5a5a" stroke-width="1"/>
<line x1="180.04" y1="580.9" x2="183.44" y2="580.9" stroke="#5a5a5a" stroke-width="1"/>
<line x1="189.19" y1="567.2" x2="189.19" y2="578.8" stroke="#5a5a5a" stroke-width="1"/>
<line x1="187.49" y1="567.2" x2="190.89" y2="567.2" stroke="#5a5a5a" stroke-width="1"/>
<line x1="187.49" y1="578.8" x2="190.89" y2="578.8" stroke="#5a5a5a" stroke-width="1"/>
<line x1="196.64" y1="569.2" x2="196.64" y2="582.9" stroke="#5a5a5a" stroke-width="1"/>
<line x1="194.94" y1="569.2" x2="198.34" y2="569.2" stroke="#5a5a5a" stroke-width="1"/>
<line x1="194.94" y1="582.9" x2="198.34" y2="582.9" stroke="#5a5a5a" stroke-width="1"/>
<line x1="204.08" y1="572.7" x2="204.08" y2="579.7" stroke="#5a5a5a" stroke-width="1"/>
<line x1="202.38" y1="572.7" x2="205.78" y2="572.7" stroke="#5a5a5a" stroke-width="1"/>
<line x1="202.38" y1="579.7" x2="205.78" y2="579.7" stroke="#5a5a5a" stroke-width="1"/>
<line x1="211.53" y1="579.7" x2="211.53" y2="585.5" stroke="#5a5a5a" stroke-width="1"/>
<line x1="209.83" y1="579.7" x2="213.23" y2="579.7" stroke="#5a5a5a" stroke-width="1"/>
<line x1="209.83" y1="585.5" x2="213.23" y2="585.5" stroke="#5a5a5a" stroke-width="1"/>
<line x1="218.97" y1="586.3" x2="218.97" y2="596.3" stroke="#5a5a5a" stroke-width="1"/>
<line x1="217.27" y1="586.3" x2="220.67" y2="586.3" stroke="#5a5a5a" stroke-width="1"/>
<line x1="217.27" y1="596.3" x2="220.67" y2="596.3" stroke="#5a5a5a" stroke-width="1"/>
<line x1="226.42" y1="589.4" x2="226.42" y2="592.4" stroke="#5a5a5a" stroke-width="1"/>
<line x1="224.72" y1="589.4" x2="228.12" y2="589.4" stroke="#5a5a5a" stroke-width="1"/>
<line x1="224.72" y1="592.4" x2="228.12" y2="592.4" stroke="#5a5a5a" stroke-width="1"/>
<line x1="233.87" y1="590.2" x2="233.87" y2="597" stroke="#5a5a5a" stroke-width="1"/>
<line x1="232.17" y1="590.2" x2="235.57" y2="590.2" stroke="#5a5a5a" stroke-width="1"/>
<line x1="232.17" y1="597" x2="235.57" y2="597" stroke="#5a5a5a" stroke-width="1"/>
<line x1="241.31" y1="590" x2="241.31" y2="593" stroke="#5a5a5a" stroke-width="1"/>
<line x1="239.61" y1="590" x2="243.01" y2="590" stroke="#5a5a5a" stroke-width="1"/>
<line x1="239.61" y1="593" x2="243.01" y2="593" stroke="#5a5a5a" stroke-width="1"/>
<line x1="248.76" y1="586.7" x2="248.76" y2="592.9" stroke="#5a5a5a" stroke-width="1"/>
<line x1="247.06" y1="586.7" x2="250.46" y2="586.7" stroke="#5a5a5a" stroke-width="1"/>
<line x1="247.06" y1="592.9" x2="250.46" y2="592.9" stroke="#5a5a5a" stroke-width="1"/>
<line x1="256.2" y1="565.8" x2="256.2" y2="593.2" stroke="#5a5a5a" stroke-width="1"/>
<line x1="254.5" y1="565.8" x2="257.9" y2="565.8" stroke="#5a5a5a" stroke-width="1"/>
<line x1="254.5" y1="593.2" x2="257.9" y2="593.2" stroke="#5a5a5a" stroke-width="1"/>
<line x1="263.65" y1="566.3" x2="263.65" y2="585" stroke="#5a5a5a" stroke-width="1"/>
<line x1="261.95" y1="566.3" x2="265.35" y2="566.3" stroke="#5a5a5a" stroke-width="1"/>
<line x1="261.95" y1="585" x2="265.35" y2="585" stroke="#5a5a5a" stroke-width="1"/>
<line x1="271.1" y1="556.2" x2="271.1" y2="570.7" stroke="#5a5a5a" stroke-width="1"/>
<line x1="269.4" y1="556.2" x2="272.8" y2="556.2" stroke="#5a5a5a" stroke-width="1"/>
<line x1="269.4" y1="570.7" x2="272.8" y2="570.7" stroke="#5a5a5a" stroke-width="1"/>
<line x1="278.54" y1="538.3" x2="278.54" y2="549.2" stroke="#5a5a5a" stroke-width="1"/>
<line x1="276.84" y1="538.3" x2="280.24" y2="538.3" stroke="#5a5a5a" stroke-width="1"/>
<line x1="276.84" y1="549.2" x2="280.24" y2="549.2" stroke="#5a5a5a" stroke-width="1"/>
<line x1="285.99" y1="539.1" x2="285.99" y2="547.2" stroke="#5a5a5a" stroke-width="1"/>
<line x1="284.29" y1="539.1" x2="287.69" y2="539.1" stroke="#5a5a5a" stroke-width="1"/>
<line x1="284.29" y1="547.2" x2="287.69" y2="547.2" stroke="#5a5a5a" stroke-width="1"/>
<line x1="293.43" y1="542.3" x2="293.43" y2="550.5" stroke="#5a5a5a" stroke-width="1"/>
<line x1="291.73" y1="542.3" x2="295.13" y2="542.3" stroke="#5a5a5a" stroke-width="1"/>
<line x1="291.73" y1="550.5" x2="295.13" y2="550.5" stroke="#5a5a5a" stroke-width="1"/>
<line x1="300.88" y1="537.9" x2="300.88" y2="544.9" stroke="#5a5a5a" stroke-width="1"/>
<line x1="299.18" y1="537.9" x2="302.58" y2="537.9" stroke="#5a5a5a" stroke-width="1"/>
<line x1="299.18" y1="544.9" x2="302.58" y2="544.9" stroke="#5a5a5a" stroke-width="1"/>
<line x1="308.33" y1="534.4" x2="308.33" y2="544.3" stroke="#5a5a5a" stroke-width="1"/>
<line x1="306.63" y1="534.4" x2="310.03" y2="534.4" stroke="#5a5a5a" stroke-width="1"/>
<line x1="306.63" y1="544.3" x2="310.03" y2="544.3" stroke="#5a5a5a" stroke-width="1"/>
<line x1="315.77" y1="528.3" x2="315.77" y2="543.4" stroke="#5a5a5a" stroke-width="1"/>
<line x1="314.07" y1="528.3" x2="317.47" y2="528.3" stroke="#5a5a5a" stroke-width="1"/>
<line x1="314.07" y1="543.4" x2="317.47" y2="543.4" stroke="#5a5a5a" stroke-width="1"/>
<line x1="323.22" y1="541.5" x2="323.22" y2="549.3" stroke="#5a5a5a" stroke-width="1"/>
<line x1="321.52" y1="541.5" x2="324.92" y2="541.5" stroke="#5a5a5a" stroke-width="1"/>
<line x1="321.52" y1="549.3" x2="324.92" y2="549.3" stroke="#5a5a5a" stroke-width="1"/>
<line x1="330.66" y1="531.9" x2="330.66" y2="542.3" stroke="#5a5a5a" stroke-width="1"/>
<line x1="328.96" y1="531.9" x2="332.36" y2="531.9" stroke="#5a5a5a" stroke-width="1"/>
<line x1="328.96" y1="542.3" x2="332.36" y2="542.3" stroke="#5a5a5a" stroke-width="1"/>
<line x1="338.11" y1="514.4" x2="338.11" y2="535.9" stroke="#5a5a5a" stroke-width="1"/>
<line x1="336.41" y1="514.4" x2="339.81" y2="514.4" stroke="#5a5a5a" stroke-width="1"/>
<line x1="336.41" y1="535.9" x2="339.81" y2="535.9" stroke="#5a5a5a" stroke-width="1"/>
<line x1="345.56" y1="508.3" x2="345.56" y2="539.2" stroke="#5a5a5a" stroke-width="1"/>
<line x1="343.86" y1="508.3" x2="347.26" y2="508.3" stroke="#5a5a5a" stroke-width="1"/>
<line x1="343.86" y1="539.2" x2="347.26" y2="539.2" stroke="#5a5a5a" stroke-width="1"/>
<line x1="353" y1="532.7" x2="353" y2="545.8" stroke="#5a5a5a" stroke-width="1"/>
<line x1="351.3" y1="532.7" x2="354.7" y2="532.7" stroke="#5a5a5a" stroke-width="1"/>
<line x1="351.3" y1="545.8" x2="354.7" y2="545.8" stroke="#5a5a5a" stroke-width="1"/>
<line x1="360.45" y1="532.7" x2="360.45" y2="540.9" stroke="#5a5a5a" stroke-width="1"/>
<line x1="358.75" y1="532.7" x2="362.15" y2="532.7" stroke="#5a5a5a" stroke-width="1"/>
<line x1="358.75" y1="540.9" x2="362.15" y2="540.9" stroke="#5a5a5a" stroke-width="1"/>
<line x1="367.89" y1="515.3" x2="367.89" y2="527.2" stroke="#5a5a5a" stroke-width="1"/>
<line x1="366.19" y1="515.3" x2="369.59" y2="515.3" stroke="#5a5a5a" stroke-width="1"/>
<line x1="366.19" y1="527.2" x2="369.59" y2="527.2" stroke="#5a5a5a" stroke-width="1"/>
<line x1="375.34" y1="508" x2="375.34" y2="526.6" stroke="#5a5a5a" stroke-width="1"/>
<line x1="373.64" y1="508" x2="377.04" y2="508" stroke="#5a5a5a" stroke-width="1"/>
<line x1="373.64" y1="526.6" x2="377.04" y2="526.6" stroke="#5a5a5a" stroke-width="1"/>
<line x1="382.79" y1="520.4" x2="382.79" y2="531.3" stroke="#5a5a5a" stroke-width="1"/>
<line x1="381.09" y1="520.4" x2="384.49" y2="520.4" stroke="#5a5a5a" stroke-width="1"/>
<line x1="381.09" y1="531.3" x2="384.49" y2="531.3" stroke="#5a5a5a" stroke-width="1"/>
<line x1="390.23" y1="524" x2="390.23" y2="537.2" stroke="#5a5a5a" stroke-width="1"/>
<line x1="388.53" y1="524" x2="391.93" y2="524" stroke="#5a5a5a" stroke-width="1"/>
<line x1="388.53" y1="537.2" x2="391.93" y2="537.2" stroke="#5a5a5a" stroke-width="1"/>
<line x1="397.68" y1="516.2" x2="397.68" y2="537.2" stroke="#5a5a5a" stroke-width="1"/>
<line x1="395.98" y1="516.2" x2="399.38" y2="516.2" stroke="#5a5a5a" stroke-width="1"/>
<line x1="395.98" y1="537.2" x2="399.38" y2="537.2" stroke="#5a5a5a" stroke-width="1"/>
<line x1="405.12" y1="530.2" x2="405.12" y2="545" stroke="#5a5a5a" stroke-width="1"/>
<line x1="403.42" y1="530.2" x2="406.82" y2="530.2" stroke="#5a5a5a" stroke-width="1"/>
<line x1="403.42" y1="545" x2="406.82" y2="545" stroke="#5a5a5a" stroke-width="1"/>
<line x1="412.57" y1="539.2" x2="412.57" y2="555.5" stroke="#5a5a5a" stroke-width="1"/>
<line x1="410.87" y1="539.2" x2="414.27" y2="539.2" stroke="#5a5a5a" stroke-width="1"/>
<line x1="410.87" y1="555.5" x2="414.27" y2="555.5" stroke="#5a5a5a" stroke-width="1"/>
<line x1="420.02" y1="549" x2="420.02" y2="556.7" stroke="#5a5a5a" stroke-width="1"/>
<line x1="418.32" y1="549" x2="421.72" y2="549" stroke="#5a5a5a" stroke-width="1"/>
<line x1="418.32" y1="556.7" x2="421.72" y2="556.7" stroke="#5a5a5a" stroke-width="1"/>
<line x1="77.5" y1="402.8" x2="77.5" y2="526.7" stroke="#5a5a5a" stroke-width="1"/>
<line x1="75.8" y1="402.8" x2="79.2" y2="402.8" stroke="#5a5a5a" stroke-width="1"/>
<line x1="75.8" y1="526.7" x2="79.2" y2="526.7" stroke="#5a5a5a" stroke-width="1"/>
<line x1="84.95" y1="430.4" x2="84.95" y2="470.5" stroke="#5a5a5a" stroke-width="1"/>
<line x1="83.25" y1="430.4" x2="86.65" y2="430.4" stroke="#5a5a5a" stroke-width="1"/>
<line x1="83.25" y1="470.5" x2="86.65" y2="470.5" stroke="#5a5a5a" stroke-width="1"/>
<line x1="92.39" y1="435.5" x2="92.39" y2="465.6" stroke="#5a5a5a" stroke-width="1"/>
<line x1="90.69" y1="435.5" x2="94.09" y2="435.5" stroke="#5a5a5a" stroke-width="1"/>
<line x1="90.69" y1="465.6" x2="94.09" y2="465.6" stroke="#5a5a5a" stroke-width="1"/>
<line x1="99.84" y1="439.1" x2="99.84" y2="471.4" stroke="#5a5a5a" stroke-width="1"/>
<line x1="98.14" y1="439.1" x2="101.54" y2="439.1" stroke="#5a5a5a" stroke-width="1"/>
<line x1="98.14" y1="471.4" x2="101.54" y2="471.4" stroke="#5a5a5a" stroke-width="1"/>
<line x1="107.28" y1="449.4" x2="107.28" y2="470.4" stroke="#5a5a5a" stroke-width="1"/>
<line x1="105.58" y1="449.4" x2="108.98" y2="449.4" stroke="#5a5a5a" stroke-width="1"/>
<line x1="105.58" y1="470.4" x2="108.98" y2="470.4" stroke="#5a5a5a" stroke-width="1"/>
<line x1="114.73" y1="471.7" x2="114.73" y2="511.3" stroke="#5a5a5a" stroke-width="1"/>
<line x1="113.03" y1="471.7" x2="116.43" y2="471.7" stroke="#5a5a5a" stroke-width="1"/>
<line x1="113.03" y1="511.3" x2="116.43" y2="511.3" stroke="#5a5a5a" stroke-width="1"/>
<line x1="122.18" y1="494.4" x2="122.18" y2="522.7" stroke="#5a5a5a" stroke-width="1"/>
<line x1="120.48" y1="494.4" x2="123.88" y2="494.4" stroke="#5a5a5a" stroke-width="1"/>
<line x1="120.48" y1="522.7" x2="123.88" y2="522.7" stroke="#5a5a5a" stroke-width="1"/>
<line x1="129.62" y1="511.3" x2="129.62" y2="529.8" stroke="#5a5a5a" stroke-width="1"/>
<line x1="127.92" y1="511.3" x2="131.32" y2="511.3" stroke="#5a5a5a" stroke-width="1"/>
<line x1="127.92" y1="529.8" x2="131.32" y2="529.8" stroke="#5a5a5a" stroke-width="1"/>
<line x1="137.07" y1="508.4" x2="137.07" y2="538.5" stroke="#5a5a5a" stroke-width="1"/>
<line x1="135.37" y1="508.4" x2="138.77" y2="508.4" stroke="#5a5a5a" stroke-width="1"/>
<line x1="135.37" y1="538.5" x2="138.77" y2="538.5" stroke="#5a5a5a" stroke-width="1"/>
<line x1="144.51" y1="482.2" x2="144.51" y2="506.6" stroke="#5a5a5a" stroke-width="1"/>
<line x1="142.81" y1="482.2" x2="146.21" y2="482.2" stroke="#5a5a5a" stroke-width="1"/>
<line x1="142.81" y1="506.6" x2="146.21" y2="506.6" stroke="#5a5a5a" stroke-width="1"/>
<line x1="151.96" y1="479.6" x2="151.96" y2="498.4" stroke="#5a5a5a" stroke-width="1"/>
<line x1="150.26" y1="479.6" x2="153.66" y2="479.6" stroke="#5a5a5a" stroke-width="1"/>
<line x1="150.26" y1="498.4" x2="153.66" y2="498.4" stroke="#5a5a5a" stroke-width="1"/>
<line x1="159.41" y1="464.2" x2="159.41" y2="498.5" stroke="#5a5a5a" stroke-width="1"/>
<line x1="157.71" y1="464.2" x2="161.11" y2="464.2" stroke="#5a5a5a" stroke-width="1"/>
<line x1="157.71" y1="498.5" x2="161.11" y2="498.5" stroke="#5a5a5a" stroke-width="1"/>
<line x1="166.85" y1="448.2" x2="166.85" y2="481.3" stroke="#5a5a5a" stroke-width="1"/>
<line x1="165.15" y1="448.2" x2="168.55" y2="448.2" stroke="#5a5a5a" stroke-width="1"/>
<line x1="165.15" y1="481.3" x2="168.55" y2="481.3" stroke="#5a5a5a" stroke-width="1"/>
<line x1="174.3" y1="461.3" x2="174.3" y2="492.3" stroke="#5a5a5a" stroke-width="1"/>
<line x1="172.6" y1="461.3" x2="176" y2="461.3" stroke="#5a5a5a" stroke-width="1"/>
<line x1="172.6" y1="492.3" x2="176" y2="492.3" stroke="#5a5a5a" stroke-width="1"/>
<line x1="181.74" y1="480.1" x2="181.74" y2="508.6" stroke="#5a5a5a" stroke-width="1"/>
<line x1="180.04" y1="480.1" x2="183.44" y2="480.1" stroke="#5a5a5a" stroke-width="1"/>
<line x1="180.04" y1="508.6" x2="183.44" y2="508.6" stroke="#5a5a5a" stroke-width="1"/>
<line x1="189.19" y1="488.5" x2="189.19" y2="511.5" stroke="#5a5a5a" stroke-width="1"/>
<line x1="187.49" y1="488.5" x2="190.89" y2="488.5" stroke="#5a5a5a" stroke-width="1"/>
<line x1="187.49" y1="511.5" x2="190.89" y2="511.5" stroke="#5a5a5a" stroke-width="1"/>
<line x1="196.64" y1="486.2" x2="196.64" y2="512.7" stroke="#5a5a5a" stroke-width="1"/>
<line x1="194.94" y1="486.2" x2="198.34" y2="486.2" stroke="#5a5a5a" stroke-width="1"/>
<line x1="194.94" y1="512.7" x2="198.34" y2="512.7" stroke="#5a5a5a" stroke-width="1"/>
<line x1="204.08" y1="494.4" x2="204.08" y2="532.8" stroke="#5a5a5a" stroke-width="1"/>
<line x1="202.38" y1="494.4" x2="205.78" y2="494.4" stroke="#5a5a5a" stroke-width="1"/>
<line x1="202.38" y1="532.8" x2="205.78" y2="532.8" stroke="#5a5a5a" stroke-width="1"/>
<line x1="211.53" y1="449.8" x2="211.53" y2="472.3" stroke="#5a5a5a" stroke-width="1"/>
<line x1="209.83" y1="449.8" x2="213.23" y2="449.8" stroke="#5a5a5a" stroke-width="1"/>
<line x1="209.83" y1="472.3" x2="213.23" y2="472.3" stroke="#5a5a5a" stroke-width="1"/>
<line x1="218.97" y1="441.6" x2="218.97" y2="460.9" stroke="#5a5a5a" stroke-width="1"/>
<line x1="217.27" y1="441.6" x2="220.67" y2="441.6" stroke="#5a5a5a" stroke-width="1"/>
<line x1="217.27" y1="460.9" x2="220.67" y2="460.9" stroke="#5a5a5a" stroke-width="1"/>
<line x1="226.42" y1="457.1" x2="226.42" y2="471.7" stroke="#5a5a5a" stroke-width="1"/>
<line x1="224.72" y1="457.1" x2="228.12" y2="457.1" stroke="#5a5a5a" stroke-width="1"/>
<line x1="224.72" y1="471.7" x2="228.12" y2="471.7" stroke="#5a5a5a" stroke-width="1"/>
<line x1="233.87" y1="457.3" x2="233.87" y2="470.4" stroke="#5a5a5a" stroke-width="1"/>
<line x1="232.17" y1="457.3" x2="235.57" y2="457.3" stroke="#5a5a5a" stroke-width="1"/>
<line x1="232.17" y1="470.4" x2="235.57" y2="470.4" stroke="#5a5a5a" stroke-width="1"/>
<line x1="241.31" y1="438.6" x2="241.31" y2="476.3" stroke="#5a5a5a" stroke-width="1"/>
<line x1="239.61" y1="438.6" x2="243.01" y2="438.6" stroke="#5a5a5a" stroke-width="1"/>
<line x1="239.61" y1="476.3" x2="243.01" y2="476.3" stroke="#5a5a5a" stroke-width="1"/>
<line x1="248.76" y1="425.4" x2="248.76" y2="448.4" stroke="#5a5a5a" stroke-width="1"/>
<line x1="247.06" y1="425.4" x2="250.46" y2="425.4" stroke="#5a5a5a" stroke-width="1"/>
<line x1="247.06" y1="448.4" x2="250.46" y2="448.4" stroke="#5a5a5a" stroke-width="1"/>
<line x1="256.2" y1="431.3" x2="256.2" y2="443.1" stroke="#5a5a5a" stroke-width="1"/>
<line x1="254.5" y1="431.3" x2="257.9" y2="431.3" stroke="#5a5a5a" stroke-width="1"/>
<line x1="254.5" y1="443.1" x2="257.9" y2="443.1" stroke="#5a5a5a" stroke-width="1"/>
<line x1="263.65" y1="433.2" x2="263.65" y2="448.4" stroke="#5a5a5a" stroke-width="1"/>
<line x1="261.95" y1="433.2" x2="265.35" y2="433.2" stroke="#5a5a5a" stroke-width="1"/>
<line x1="261.95" y1="448.4" x2="265.35" y2="448.4" stroke="#5a5a5a" stroke-width="1"/>
<line x1="271.1" y1="448.4" x2="271.1" y2="482.2" stroke="#5a5a5a" stroke-width="1"/>
<line x1="269.4" y1="448.4" x2="272.8" y2="448.4" stroke="#5a5a5a" stroke-width="1"/>
<line x1="269.4" y1="482.2" x2="272.8" y2="482.2" stroke="#5a5a5a" stroke-width="1"/>
<line x1="278.54" y1="454.5" x2="278.54" y2="476.1" stroke="#5a5a5a" stroke-width="1"/>
<line x1="276.84" y1="454.5" x2="280.24" y2="454.5" stroke="#5a5a5a" stroke-width="1"/>
<line x1="276.84" y1="476.1" x2="280.24" y2="476.1" stroke="#5a5a5a" stroke-width="1"/>
<line x1="285.99" y1="468.3" x2="285.99" y2="483.3" stroke="#5a5a5a" stroke-width="1"/>
<line x1="284.29" y1="468.3" x2="287.69" y2="468.3" stroke="#5a5a5a" stroke-width="1"/>
<line x1="284.29" y1="483.3" x2="287.69" y2="483.3" stroke="#5a5a5a" stroke-width="1"/>
<line x1="293.43" y1="426.4" x2="293.43" y2="465.3" stroke="#5a5a5a" stroke-width="1"/>
<line x1="291.73" y1="426.4" x2="295.13" y2="426.4" stroke="#5a5a5a" stroke-width="1"/>
<line x1="291.73" y1="465.3" x2="295.13" y2="465.3" stroke="#5a5a5a" stroke-width="1"/>
<line x1="300.88" y1="402.3" x2="300.88" y2="441.4" stroke="#5a5a5a" stroke-width="1"/>
<line x1="299.18" y1="402.3" x2="302.58" y2="402.3" stroke="#5a5a5a" stroke-width="1"/>
<line x1="299.18" y1="441.4" x2="302.58" y2="441.4" stroke="#5a5a5a" stroke-width="1"/>
<line x1="308.33" y1="380.3" x2="308.33" y2="432.3" stroke="#5a5a5a" stroke-width="1"/>
<line x1="306.63" y1="380.3" x2="310.03" y2="380.3" stroke="#5a5a5a" stroke-width="1"/>
<line x1="306.63" y1="432.3" x2="310.03" y2="432.3" stroke="#5a5a5a" stroke-width="1"/>
<line x1="315.77" y1="428.5" x2="315.77" y2="451.7" stroke="#5a5a5a" stroke-width="1"/>
<line x1="314.07" y1="428.5" x2="317.47" y2="428.5" stroke="#5a5a5a" stroke-width="1"/>
<line x1="314.07" y1="451.7" x2="317.47" y2="451.7" stroke="#5a5a5a" stroke-width="1"/>
<line x1="323.22" y1="426.4" x2="323.22" y2="445.2" stroke="#5a5a5a" stroke-width="1"/>
<line x1="321.52" y1="426.4" x2="324.92" y2="426.4" stroke="#5a5a5a" stroke-width="1"/>
<line x1="321.52" y1="445.2" x2="324.92" y2="445.2" stroke="#5a5a5a" stroke-width="1"/>
<line x1="330.66" y1="418.6" x2="330.66" y2="432" stroke="#5a5a5a" stroke-width="1"/>
<line x1="328.96" y1="418.6" x2="332.36" y2="418.6" stroke="#5a5a5a" stroke-width="1"/>
<line x1="328.96" y1="432" x2="332.36" y2="432" stroke="#5a5a5a" stroke-width="1"/>
<line x1="338.11" y1="395.4" x2="338.11" y2="420.3" stroke="#5a5a5a" stroke-width="1"/>
<line x1="336.41" y1="395.4" x2="339.81" y2="395.4" stroke="#5a5a5a" stroke-width="1"/>
<line x1="336.41" y1="420.3" x2="339.81" y2="420.3" stroke="#5a5a5a" stroke-width="1"/>
<line x1="345.56" y1="410.4" x2="345.56" y2="432" stroke="#5a5a5a" stroke-width="1"/>
<line x1="343.86" y1="410.4" x2="347.26" y2="410.4" stroke="#5a5a5a" stroke-width="1"/>
<line x1="343.86" y1="432" x2="347.26" y2="432" stroke="#5a5a5a" stroke-width="1"/>
<line x1="353" y1="432.5" x2="353" y2="452.9" stroke="#5a5a5a" stroke-width="1"/>
<line x1="351.3" y1="432.5" x2="354.7" y2="432.5" stroke="#5a5a5a" stroke-width="1"/>
<line x1="351.3" y1="452.9" x2="354.7" y2="452.9" stroke="#5a5a5a" stroke-width="1"/>
<line x1="360.45" y1="442.8" x2="360.45" y2="457.8" stroke="#5a5a5a" stroke-width="1"/>
<line x1="358.75" y1="442.8" x2="362.15" y2="442.8" stroke="#5a5a5a" stroke-width="1"/>
<line x1="358.75" y1="457.8" x2="362.15" y2="457.8" stroke="#5a5a5a" stroke-width="1"/>
<line x1="367.89" y1="419.4" x2="367.89" y2="440.2" stroke="#5a5a5a" stroke-width="1"/>
<line x1="366.19" y1="419.4" x2="369.59" y2="419.4" stroke="#5a5a5a" stroke-width="1"/>
<line x1="366.19" y1="440.2" x2="369.59" y2="440.2" stroke="#5a5a5a" stroke-width="1"/>
<line x1="375.34" y1="415.9" x2="375.34" y2="431.1" stroke="#5a5a5a" stroke-width="1"/>
<line x1="373.64" y1="415.9" x2="377.04" y2="415.9" stroke="#5a5a5a" stroke-width="1"/>
<line x1="373.64" y1="431.1" x2="377.04" y2="431.1" stroke="#5a5a5a" stroke-width="1"/>
<line x1="382.79" y1="430.7" x2="382.79" y2="449.1" stroke="#5a5a5a" stroke-width="1"/>
<line x1="381.09" y1="430.7" x2="384.49" y2="430.7" stroke="#5a5a5a" stroke-width="1"/>
<line x1="381.09" y1="449.1" x2="384.49" y2="449.1" stroke="#5a5a5a" stroke-width="1"/>
<line x1="390.23" y1="390.4" x2="390.23" y2="426.7" stroke="#5a5a5a" stroke-width="1"/>
<line x1="388.53" y1="390.4" x2="391.93" y2="390.4" stroke="#5a5a5a" stroke-width="1"/>
<line x1="388.53" y1="426.7" x2="391.93" y2="426.7" stroke="#5a5a5a" stroke-width="1"/>
<line x1="397.68" y1="394.5" x2="397.68" y2="424" stroke="#5a5a5a" stroke-width="1"/>
<line x1="395.98" y1="394.5" x2="399.38" y2="394.5" stroke="#5a5a5a" stroke-width="1"/>
<line x1="395.98" y1="424" x2="399.38" y2="424" stroke="#5a5a5a" stroke-width="1"/>
<line x1="405.12" y1="400.9" x2="405.12" y2="414" stroke="#5a5a5a" stroke-width="1"/>
<line x1="403.42" y1="400.9" x2="406.82" y2="400.9" stroke="#5a5a5a" stroke-width="1"/>
<line x1="403.42" y1="414" x2="406.82" y2="414" stroke="#5a5a5a" stroke-width="1"/>
<line x1="412.57" y1="409.3" x2="412.57" y2="421" stroke="#5a5a5a" stroke-width="1"/>
<line x1="410.87" y1="409.3" x2="414.27" y2="409.3" stroke="#5a5a5a" stroke-width="1"/>
<line x1="410.87" y1="421" x2="414.27" y2="421" stroke="#5a5a5a" stroke-width="1"/>
<line x1="420.02" y1="364.5" x2="420.02" y2="397.8" stroke="#5a5a5a" stroke-width="1"/>
<line x1="418.32" y1="364.5" x2="421.72" y2="364.5" stroke="#5a5a5a" stroke-width="1"/>
<line x1="418.32" y1="397.8" x2="421.72" y2="397.8" stroke="#5a5a5a" stroke-width="1"/>
<polyline points="77.5,571.6 84.95,540.9 92.39,539.3 99.84,550.1 107.28,537.6 114.73,571.6 122.18,566.3 129.62,561.8 137.07,571 144.51,579.8 151.96,588 159.41,594.1 166.85,585.3 174.3,583.5 181.74,577.4 189.19,572.4 196.64,575.9 204.08,576.4 211.53,582.3 218.97,591 226.42,590.9 233.87,593.3 241.31,591.5 248.76,590.2 256.2,580.1 263.65,575.8 271.1,563.5 278.54,543.7 285.99,543.1 293.43,546.3 300.88,541.7 308.33,539.1 315.77,536.2 323.22,545.5 330.66,537.1 338.11,525.4 345.56,523.7 353,539.2 360.45,536.7 367.89,521.4 375.34,517 382.79,525.8 390.23,530.5 397.68,526.7 405.12,537.5 412.57,547.3 420.02,552.9" fill="none" stroke="#000" stroke-width="2.1" stroke-linejoin="round" stroke-dasharray="5.6 4"/>
<circle cx="77.5" cy="571.6" r="2.6" fill="none" stroke="#333" stroke-width="1"/>
<circle cx="84.95" cy="540.9" r="2.6" fill="none" stroke="#333" stroke-width="1"/>
<circle cx="92.39" cy="539.3" r="2.6" fill="none" stroke="#333" stroke-width="1"/>
<circle cx="99.84" cy="550.1" r="2.6" fill="none" stroke="#333" stroke-width="1"/>
<circle cx="107.28" cy="537.6" r="2.6" fill="none" stroke="#333" stroke-width="1"/>
<circle cx="114.73" cy="571.6" r="2.6" fill="none" stroke="#333" stroke-width="1"/>
<circle cx="122.18" cy="566.3" r="2.6" fill="none" stroke="#333" stroke-width="1"/>
<circle cx="129.62" cy="561.8" r="2.6" fill="none" stroke="#333" stroke-width="1"/>
<circle cx="137.07" cy="571" r="2.6" fill="none" stroke="#333" stroke-width="1"/>
<circle cx="144.51" cy="579.8" r="2.6" fill="none" stroke="#333" stroke-width="1"/>
<circle cx="151.96" cy="588" r="2.6" fill="none" stroke="#333" stroke-width="1"/>
<circle cx="159.41" cy="594.1" r="2.6" fill="none" stroke="#333" stroke-width="1"/>
<circle cx="166.85" cy="585.3" r="2.6" fill="none" stroke="#333" stroke-width="1"/>
<circle cx="174.3" cy="583.5" r="2.6" fill="none" stroke="#333" stroke-width="1"/>
<circle cx="181.74" cy="577.4" r="2.6" fill="none" stroke="#333" stroke-width="1"/>
<circle cx="189.19" cy="572.4" r="2.6" fill="none" stroke="#333" stroke-width="1"/>
<circle cx="196.64" cy="575.9" r="2.6" fill="none" stroke="#333" stroke-width="1"/>
<circle cx="204.08" cy="576.4" r="2.6" fill="none" stroke="#333" stroke-width="1"/>
<circle cx="211.53" cy="582.3" r="2.6" fill="none" stroke="#333" stroke-width="1"/>
<circle cx="218.97" cy="591" r="2.6" fill="none" stroke="#333" stroke-width="1"/>
<circle cx="226.42" cy="590.9" r="2.6" fill="none" stroke="#333" stroke-width="1"/>
<circle cx="233.87" cy="593.3" r="2.6" fill="none" stroke="#333" stroke-width="1"/>
<circle cx="241.31" cy="591.5" r="2.6" fill="none" stroke="#333" stroke-width="1"/>
<circle cx="248.76" cy="590.2" r="2.6" fill="none" stroke="#333" stroke-width="1"/>
<circle cx="256.2" cy="580.1" r="2.6" fill="none" stroke="#333" stroke-width="1"/>
<circle cx="263.65" cy="575.8" r="2.6" fill="none" stroke="#333" stroke-width="1"/>
<circle cx="271.1" cy="563.5" r="2.6" fill="none" stroke="#333" stroke-width="1"/>
<circle cx="278.54" cy="543.7" r="2.6" fill="none" stroke="#333" stroke-width="1"/>
<circle cx="285.99" cy="543.1" r="2.6" fill="none" stroke="#333" stroke-width="1"/>
<circle cx="293.43" cy="546.3" r="2.6" fill="none" stroke="#333" stroke-width="1"/>
<circle cx="300.88" cy="541.7" r="2.6" fill="none" stroke="#333" stroke-width="1"/>
<circle cx="308.33" cy="539.1" r="2.6" fill="none" stroke="#333" stroke-width="1"/>
<circle cx="315.77" cy="536.2" r="2.6" fill="none" stroke="#333" stroke-width="1"/>
<circle cx="323.22" cy="545.5" r="2.6" fill="none" stroke="#333" stroke-width="1"/>
<circle cx="330.66" cy="537.1" r="2.6" fill="none" stroke="#333" stroke-width="1"/>
<circle cx="338.11" cy="525.4" r="2.6" fill="none" stroke="#333" stroke-width="1"/>
<circle cx="345.56" cy="523.7" r="2.6" fill="none" stroke="#333" stroke-width="1"/>
<circle cx="353" cy="539.2" r="2.6" fill="none" stroke="#333" stroke-width="1"/>
<circle cx="360.45" cy="536.7" r="2.6" fill="none" stroke="#333" stroke-width="1"/>
<circle cx="367.89" cy="521.4" r="2.6" fill="none" stroke="#333" stroke-width="1"/>
<circle cx="375.34" cy="517" r="2.6" fill="none" stroke="#333" stroke-width="1"/>
<circle cx="382.79" cy="525.8" r="2.6" fill="none" stroke="#333" stroke-width="1"/>
<circle cx="390.23" cy="530.5" r="2.6" fill="none" stroke="#333" stroke-width="1"/>
<circle cx="397.68" cy="526.7" r="2.6" fill="none" stroke="#333" stroke-width="1"/>
<circle cx="405.12" cy="537.5" r="2.6" fill="none" stroke="#333" stroke-width="1"/>
<circle cx="412.57" cy="547.3" r="2.6" fill="none" stroke="#333" stroke-width="1"/>
<circle cx="420.02" cy="552.9" r="2.6" fill="none" stroke="#333" stroke-width="1"/>
<polyline points="77.5,464.9 84.95,450.8 92.39,450.8 99.84,455.4 107.28,460.2 114.73,491.5 122.18,508.7 129.62,520.6 137.07,523.6 144.51,494.8 151.96,489.2 159.41,481 166.85,465.1 174.3,476.6 181.74,494.4 189.19,500 196.64,499.7 204.08,513.8 211.53,461.1 218.97,451.3 226.42,464.4 233.87,464.3 241.31,457.8 248.76,436.7 256.2,436.9 263.65,440.9 271.1,465.3 278.54,465.1 285.99,475.8 293.43,445.9 300.88,421.9 308.33,406.3 315.77,440.3 323.22,436 330.66,425.5 338.11,407.6 345.56,421 353,442.6 360.45,450.5 367.89,430.1 375.34,423.6 382.79,439.7 390.23,408.5 397.68,409.2 405.12,407.4 412.57,415.2 420.02,381.2" fill="none" stroke="#000" stroke-width="1.8" stroke-linejoin="round"/>
<circle cx="77.5" cy="464.9" r="2.85" fill="#000"/>
<circle cx="84.95" cy="450.8" r="2.85" fill="#000"/>
<circle cx="92.39" cy="450.8" r="2.85" fill="#000"/>
<circle cx="99.84" cy="455.4" r="2.85" fill="#000"/>
<circle cx="107.28" cy="460.2" r="2.85" fill="#000"/>
<circle cx="114.73" cy="491.5" r="2.85" fill="#000"/>
<circle cx="122.18" cy="508.7" r="2.85" fill="#000"/>
<circle cx="129.62" cy="520.6" r="2.85" fill="#000"/>
<circle cx="137.07" cy="523.6" r="2.85" fill="#000"/>
<circle cx="144.51" cy="494.8" r="2.85" fill="#000"/>
<circle cx="151.96" cy="489.2" r="2.85" fill="#000"/>
<circle cx="159.41" cy="481" r="2.85" fill="#000"/>
<circle cx="166.85" cy="465.1" r="2.85" fill="#000"/>
<circle cx="174.3" cy="476.6" r="2.85" fill="#000"/>
<circle cx="181.74" cy="494.4" r="2.85" fill="#000"/>
<circle cx="189.19" cy="500" r="2.85" fill="#000"/>
<circle cx="196.64" cy="499.7" r="2.85" fill="#000"/>
<circle cx="204.08" cy="513.8" r="2.85" fill="#000"/>
<circle cx="211.53" cy="461.1" r="2.85" fill="#000"/>
<circle cx="218.97" cy="451.3" r="2.85" fill="#000"/>
<circle cx="226.42" cy="464.4" r="2.85" fill="#000"/>
<circle cx="233.87" cy="464.3" r="2.85" fill="#000"/>
<circle cx="241.31" cy="457.8" r="2.85" fill="#000"/>
<circle cx="248.76" cy="436.7" r="2.85" fill="#000"/>
<circle cx="256.2" cy="436.9" r="2.85" fill="#000"/>
<circle cx="263.65" cy="440.9" r="2.85" fill="#000"/>
<circle cx="271.1" cy="465.3" r="2.85" fill="#000"/>
<circle cx="278.54" cy="465.1" r="2.85" fill="#000"/>
<circle cx="285.99" cy="475.8" r="2.85" fill="#000"/>
<circle cx="293.43" cy="445.9" r="2.85" fill="#000"/>
<circle cx="300.88" cy="421.9" r="2.85" fill="#000"/>
<circle cx="308.33" cy="406.3" r="2.85" fill="#000"/>
<circle cx="315.77" cy="440.3" r="2.85" fill="#000"/>
<circle cx="323.22" cy="436" r="2.85" fill="#000"/>
<circle cx="330.66" cy="425.5" r="2.85" fill="#000"/>
<circle cx="338.11" cy="407.6" r="2.85" fill="#000"/>
<circle cx="345.56" cy="421" r="2.85" fill="#000"/>
<circle cx="353" cy="442.6" r="2.85" fill="#000"/>
<circle cx="360.45" cy="450.5" r="2.85" fill="#000"/>
<circle cx="367.89" cy="430.1" r="2.85" fill="#000"/>
<circle cx="375.34" cy="423.6" r="2.85" fill="#000"/>
<circle cx="382.79" cy="439.7" r="2.85" fill="#000"/>
<circle cx="390.23" cy="408.5" r="2.85" fill="#000"/>
<circle cx="397.68" cy="409.2" r="2.85" fill="#000"/>
<circle cx="405.12" cy="407.4" r="2.85" fill="#000"/>
<circle cx="412.57" cy="415.2" r="2.85" fill="#000"/>
<circle cx="420.02" cy="381.2" r="2.85" fill="#000"/>
<line x1="432.9" y1="487.1" x2="438.2" y2="487.1" stroke="#000" stroke-width="1.6"/>
<line x1="444.4" y1="487.1" x2="448.8" y2="487.1" stroke="#000" stroke-width="1.6"/>
<circle cx="442.1" cy="487.1" r="2.2" fill="#fff" stroke="#222" stroke-width="1"/>
<text x="453.3" y="491.2" font-size="12" text-anchor="start" font-weight="normal" textLength="39.65" lengthAdjust="spacingAndGlyphs" stroke="#000" stroke-width="0.22">Control</text>
<line x1="432.9" y1="503.9" x2="450.6" y2="503.9" stroke="#000" stroke-width="1.7"/>
<circle cx="442.1" cy="503.9" r="2.6" fill="#000"/>
<text x="453.3" y="507.9" font-size="12" text-anchor="start" font-weight="normal" textLength="61.54" lengthAdjust="spacingAndGlyphs" stroke="#000" stroke-width="0.22">Brain Dead</text>
</g>
<g id="chartC">
<text x="1" y="682.4" font-size="20.2" text-anchor="start" font-weight="bold">C</text>
<line x1="58.5" y1="691.3" x2="58.5" y2="956.7" stroke="#b4b4b4" stroke-width="1"/>
<line x1="58" y1="956.2" x2="432.2" y2="956.2" stroke="#b4b4b4" stroke-width="1"/>
<text x="47.9" y="961.1" font-size="12" text-anchor="end" font-weight="normal" textLength="6.84" lengthAdjust="spacingAndGlyphs" stroke="#000" stroke-width="0.22">0</text>
<text x="47.9" y="922.63" font-size="12" text-anchor="end" font-weight="normal" textLength="13.68" lengthAdjust="spacingAndGlyphs" stroke="#000" stroke-width="0.22">20</text>
<text x="47.9" y="884.86" font-size="12" text-anchor="end" font-weight="normal" textLength="13.68" lengthAdjust="spacingAndGlyphs" stroke="#000" stroke-width="0.22">40</text>
<text x="47.9" y="847.08" font-size="12" text-anchor="end" font-weight="normal" textLength="13.68" lengthAdjust="spacingAndGlyphs" stroke="#000" stroke-width="0.22">60</text>
<text x="47.9" y="809.31" font-size="12" text-anchor="end" font-weight="normal" textLength="13.68" lengthAdjust="spacingAndGlyphs" stroke="#000" stroke-width="0.22">80</text>
<text x="47.9" y="771.54" font-size="12" text-anchor="end" font-weight="normal" textLength="20.52" lengthAdjust="spacingAndGlyphs" stroke="#000" stroke-width="0.22">100</text>
<text x="47.9" y="733.77" font-size="12" text-anchor="end" font-weight="normal" textLength="20.52" lengthAdjust="spacingAndGlyphs" stroke="#000" stroke-width="0.22">120</text>
<text x="47.9" y="696" font-size="12" text-anchor="end" font-weight="normal" textLength="20.52" lengthAdjust="spacingAndGlyphs" stroke="#000" stroke-width="0.22">140</text>
<text x="42.4" y="975" font-size="12" text-anchor="start" font-weight="normal" textLength="33" lengthAdjust="spacingAndGlyphs" stroke="#000" stroke-width="0.22">Hours</text>
<text x="244.4" y="988" font-size="12" text-anchor="middle" font-weight="bold" textLength="76.8" lengthAdjust="spacingAndGlyphs">Time (Hours)</text>
<text x="19.6" y="821" font-size="12" text-anchor="middle" font-weight="bold" transform="rotate(-90 19.6 821)" textLength="182.6" lengthAdjust="spacingAndGlyphs">Vascular Resistance (dyn.s/cm5)</text>
<rect x="58.3" y="828" width="3.3" height="36" fill="#9a9a9a"/>
<rect x="69.4" y="830" width="2.8" height="18" fill="#9a9a9a"/>
<rect x="59.6" y="868" width="2" height="13" fill="#888"/>
<rect x="69.8" y="864" width="2.1" height="46.4" fill="#777"/>
<line x1="58.2" y1="828" x2="58.2" y2="853.8" stroke="#4d4d4d" stroke-width="1"/>
<line x1="56.5" y1="828" x2="59.9" y2="828" stroke="#4d4d4d" stroke-width="1"/>
<line x1="59.4" y1="828" x2="59.4" y2="856" stroke="#4d4d4d" stroke-width="1"/>
<line x1="57.7" y1="828" x2="61.1" y2="828" stroke="#4d4d4d" stroke-width="1"/>
<line x1="60.5" y1="828" x2="60.5" y2="858" stroke="#4d4d4d" stroke-width="1"/>
<line x1="58.8" y1="828" x2="62.2" y2="828" stroke="#4d4d4d" stroke-width="1"/>
<line x1="61.8" y1="828" x2="61.8" y2="860" stroke="#4d4d4d" stroke-width="1"/>
<line x1="60.1" y1="828" x2="63.5" y2="828" stroke="#4d4d4d" stroke-width="1"/>
<line x1="67.5" y1="823" x2="67.5" y2="854" stroke="#4d4d4d" stroke-width="1"/>
<line x1="65.8" y1="823" x2="69.2" y2="823" stroke="#4d4d4d" stroke-width="1"/>
<line x1="69.7" y1="830" x2="69.7" y2="857.9" stroke="#4d4d4d" stroke-width="1"/>
<line x1="68" y1="830" x2="71.4" y2="830" stroke="#4d4d4d" stroke-width="1"/>
<line x1="71.9" y1="808.5" x2="71.9" y2="849.3" stroke="#4d4d4d" stroke-width="1"/>
<line x1="70.2" y1="808.5" x2="73.6" y2="808.5" stroke="#4d4d4d" stroke-width="1"/>
<line x1="88.3" y1="821.2" x2="88.3" y2="850.4" stroke="#4d4d4d" stroke-width="1"/>
<line x1="86.6" y1="821.2" x2="90" y2="821.2" stroke="#4d4d4d" stroke-width="1"/>
<line x1="103.28" y1="817.3" x2="103.28" y2="842.5" stroke="#4d4d4d" stroke-width="1"/>
<line x1="101.58" y1="817.3" x2="104.98" y2="817.3" stroke="#4d4d4d" stroke-width="1"/>
<line x1="118.27" y1="800.2" x2="118.27" y2="833.4" stroke="#4d4d4d" stroke-width="1"/>
<line x1="116.57" y1="800.2" x2="119.97" y2="800.2" stroke="#4d4d4d" stroke-width="1"/>
<line x1="133.25" y1="826.9" x2="133.25" y2="851.8" stroke="#4d4d4d" stroke-width="1"/>
<line x1="131.56" y1="826.9" x2="134.95" y2="826.9" stroke="#4d4d4d" stroke-width="1"/>
<line x1="148.24" y1="809.5" x2="148.24" y2="850" stroke="#4d4d4d" stroke-width="1"/>
<line x1="146.54" y1="809.5" x2="149.94" y2="809.5" stroke="#4d4d4d" stroke-width="1"/>
<line x1="163.22" y1="837.9" x2="163.22" y2="866.1" stroke="#4d4d4d" stroke-width="1"/>
<line x1="161.53" y1="837.9" x2="164.92" y2="837.9" stroke="#4d4d4d" stroke-width="1"/>
<line x1="178.21" y1="829.4" x2="178.21" y2="861.1" stroke="#4d4d4d" stroke-width="1"/>
<line x1="176.51" y1="829.4" x2="179.91" y2="829.4" stroke="#4d4d4d" stroke-width="1"/>
<line x1="193.19" y1="820.8" x2="193.19" y2="856.1" stroke="#4d4d4d" stroke-width="1"/>
<line x1="191.5" y1="820.8" x2="194.89" y2="820.8" stroke="#4d4d4d" stroke-width="1"/>
<line x1="208.18" y1="827.1" x2="208.18" y2="867.2" stroke="#4d4d4d" stroke-width="1"/>
<line x1="206.48" y1="827.1" x2="209.88" y2="827.1" stroke="#4d4d4d" stroke-width="1"/>
<line x1="223.17" y1="824.6" x2="223.17" y2="863.6" stroke="#4d4d4d" stroke-width="1"/>
<line x1="221.47" y1="824.6" x2="224.87" y2="824.6" stroke="#4d4d4d" stroke-width="1"/>
<line x1="238.15" y1="823.6" x2="238.15" y2="866.4" stroke="#4d4d4d" stroke-width="1"/>
<line x1="236.45" y1="823.6" x2="239.85" y2="823.6" stroke="#4d4d4d" stroke-width="1"/>
<line x1="253.13" y1="805.7" x2="253.13" y2="847.3" stroke="#4d4d4d" stroke-width="1"/>
<line x1="251.44" y1="805.7" x2="254.83" y2="805.7" stroke="#4d4d4d" stroke-width="1"/>
<line x1="268.12" y1="819" x2="268.12" y2="863.1" stroke="#4d4d4d" stroke-width="1"/>
<line x1="266.42" y1="819" x2="269.82" y2="819" stroke="#4d4d4d" stroke-width="1"/>
<line x1="283.11" y1="818.3" x2="283.11" y2="863.1" stroke="#4d4d4d" stroke-width="1"/>
<line x1="281.41" y1="818.3" x2="284.81" y2="818.3" stroke="#4d4d4d" stroke-width="1"/>
<line x1="298.09" y1="819.5" x2="298.09" y2="862.4" stroke="#4d4d4d" stroke-width="1"/>
<line x1="296.39" y1="819.5" x2="299.79" y2="819.5" stroke="#4d4d4d" stroke-width="1"/>
<line x1="313.07" y1="829.9" x2="313.07" y2="868.7" stroke="#4d4d4d" stroke-width="1"/>
<line x1="311.38" y1="829.9" x2="314.77" y2="829.9" stroke="#4d4d4d" stroke-width="1"/>
<line x1="328.06" y1="830" x2="328.06" y2="868.7" stroke="#4d4d4d" stroke-width="1"/>
<line x1="326.36" y1="830" x2="329.76" y2="830" stroke="#4d4d4d" stroke-width="1"/>
<line x1="343.05" y1="844" x2="343.05" y2="875.7" stroke="#4d4d4d" stroke-width="1"/>
<line x1="341.35" y1="844" x2="344.75" y2="844" stroke="#4d4d4d" stroke-width="1"/>
<line x1="358.03" y1="842.2" x2="358.03" y2="875.2" stroke="#4d4d4d" stroke-width="1"/>
<line x1="356.33" y1="842.2" x2="359.73" y2="842.2" stroke="#4d4d4d" stroke-width="1"/>
<line x1="373.01" y1="853" x2="373.01" y2="879.5" stroke="#4d4d4d" stroke-width="1"/>
<line x1="371.31" y1="853" x2="374.71" y2="853" stroke="#4d4d4d" stroke-width="1"/>
<line x1="388" y1="839.9" x2="388" y2="870.2" stroke="#4d4d4d" stroke-width="1"/>
<line x1="386.3" y1="839.9" x2="389.7" y2="839.9" stroke="#4d4d4d" stroke-width="1"/>
<line x1="402.99" y1="840.5" x2="402.99" y2="873.5" stroke="#4d4d4d" stroke-width="1"/>
<line x1="401.29" y1="840.5" x2="404.69" y2="840.5" stroke="#4d4d4d" stroke-width="1"/>
<line x1="417.97" y1="834.9" x2="417.97" y2="863.9" stroke="#4d4d4d" stroke-width="1"/>
<line x1="416.27" y1="834.9" x2="419.67" y2="834.9" stroke="#4d4d4d" stroke-width="1"/>
<polyline points="58.2,853.8 59.4,856 60.5,858 61.8,860 62.8,862 65,865.1 67.5,854 69.7,857.9 71.9,849.3" fill="none" stroke="#000" stroke-width="1.6" stroke-linejoin="round" stroke-dasharray="3 2.5"/>
<polyline points="71.9,849.3 88.3,850.4 103.28,842.5 118.27,833.4 133.25,851.8 148.24,850 163.22,866.1 178.21,861.1 193.19,856.1 208.18,867.2 223.17,863.6 238.15,866.4 253.13,847.3 268.12,863.1 283.11,863.1 298.09,862.4 313.07,868.7 328.06,868.7 343.05,875.7 358.03,875.2 373.01,879.5 388,870.2 402.99,873.5 417.97,863.9" fill="none" stroke="#000" stroke-width="1.8" stroke-linejoin="round" stroke-dasharray="6 4.4" stroke-dashoffset="2.5"/>
<circle cx="58.2" cy="853.8" r="2.5" fill="none" stroke="#333" stroke-width="1"/>
<circle cx="59.4" cy="856" r="2.5" fill="none" stroke="#333" stroke-width="1"/>
<circle cx="60.5" cy="858" r="2.5" fill="none" stroke="#333" stroke-width="1"/>
<circle cx="61.8" cy="860" r="2.5" fill="none" stroke="#333" stroke-width="1"/>
<circle cx="62.8" cy="862" r="2.5" fill="none" stroke="#333" stroke-width="1"/>
<circle cx="65" cy="865.1" r="2.5" fill="none" stroke="#333" stroke-width="1"/>
<circle cx="67.5" cy="854" r="2.5" fill="none" stroke="#333" stroke-width="1"/>
<circle cx="69.7" cy="857.9" r="2.5" fill="none" stroke="#333" stroke-width="1"/>
<circle cx="71.9" cy="849.3" r="2.5" fill="none" stroke="#333" stroke-width="1"/>
<circle cx="88.3" cy="850.4" r="2.5" fill="none" stroke="#333" stroke-width="1"/>
<circle cx="103.28" cy="842.5" r="2.5" fill="none" stroke="#333" stroke-width="1"/>
<circle cx="118.27" cy="833.4" r="2.5" fill="none" stroke="#333" stroke-width="1"/>
<circle cx="133.25" cy="851.8" r="2.5" fill="none" stroke="#333" stroke-width="1"/>
<circle cx="148.24" cy="850" r="2.5" fill="none" stroke="#333" stroke-width="1"/>
<circle cx="163.22" cy="866.1" r="2.5" fill="none" stroke="#333" stroke-width="1"/>
<circle cx="178.21" cy="861.1" r="2.5" fill="none" stroke="#333" stroke-width="1"/>
<circle cx="193.19" cy="856.1" r="2.5" fill="none" stroke="#333" stroke-width="1"/>
<circle cx="208.18" cy="867.2" r="2.5" fill="none" stroke="#333" stroke-width="1"/>
<circle cx="223.17" cy="863.6" r="2.5" fill="none" stroke="#333" stroke-width="1"/>
<circle cx="238.15" cy="866.4" r="2.5" fill="none" stroke="#333" stroke-width="1"/>
<circle cx="253.13" cy="847.3" r="2.5" fill="none" stroke="#333" stroke-width="1"/>
<circle cx="268.12" cy="863.1" r="2.5" fill="none" stroke="#333" stroke-width="1"/>
<circle cx="283.11" cy="863.1" r="2.5" fill="none" stroke="#333" stroke-width="1"/>
<circle cx="298.09" cy="862.4" r="2.5" fill="none" stroke="#333" stroke-width="1"/>
<circle cx="313.07" cy="868.7" r="2.5" fill="none" stroke="#333" stroke-width="1"/>
<circle cx="328.06" cy="868.7" r="2.5" fill="none" stroke="#333" stroke-width="1"/>
<circle cx="343.05" cy="875.7" r="2.5" fill="none" stroke="#333" stroke-width="1"/>
<circle cx="358.03" cy="875.2" r="2.5" fill="none" stroke="#333" stroke-width="1"/>
<circle cx="373.01" cy="879.5" r="2.5" fill="none" stroke="#333" stroke-width="1"/>
<circle cx="388" cy="870.2" r="2.5" fill="none" stroke="#333" stroke-width="1"/>
<circle cx="402.99" cy="873.5" r="2.5" fill="none" stroke="#333" stroke-width="1"/>
<circle cx="417.97" cy="863.9" r="2.5" fill="none" stroke="#333" stroke-width="1"/>
<line x1="59.4" y1="861.3" x2="59.4" y2="888.5" stroke="#000" stroke-width="1"/>
<line x1="58.2" y1="888.5" x2="60.6" y2="888.5" stroke="#000" stroke-width="1"/>
<line x1="61.8" y1="862.6" x2="61.8" y2="902.7" stroke="#000" stroke-width="1.3"/>
<line x1="60.1" y1="902.7" x2="63.5" y2="902.7" stroke="#000" stroke-width="1.3"/>
<line x1="62.8" y1="722.7" x2="62.8" y2="860" stroke="#000" stroke-width="1.3"/>
<line x1="65" y1="801.2" x2="65" y2="862" stroke="#000" stroke-width="1.3"/>
<line x1="69.7" y1="861.2" x2="69.7" y2="910.4" stroke="#000" stroke-width="1.3"/>
<line x1="68" y1="910.4" x2="71.4" y2="910.4" stroke="#000" stroke-width="1.3"/>
<line x1="71.9" y1="874.7" x2="71.9" y2="910.4" stroke="#000" stroke-width="1.3"/>
<line x1="70.2" y1="910.4" x2="73.6" y2="910.4" stroke="#000" stroke-width="1.3"/>
<line x1="88.3" y1="878.9" x2="88.3" y2="932.1" stroke="#000" stroke-width="1.6"/>
<line x1="86.6" y1="932.1" x2="90" y2="932.1" stroke="#000" stroke-width="1.6"/>
<line x1="103.28" y1="881.7" x2="103.28" y2="915" stroke="#000" stroke-width="1.6"/>
<line x1="101.58" y1="915" x2="104.98" y2="915" stroke="#000" stroke-width="1.6"/>
<line x1="118.27" y1="899.4" x2="118.27" y2="923.6" stroke="#000" stroke-width="1.6"/>
<line x1="116.57" y1="923.6" x2="119.97" y2="923.6" stroke="#000" stroke-width="1.6"/>
<line x1="133.25" y1="882.5" x2="133.25" y2="895.9" stroke="#000" stroke-width="1.6"/>
<line x1="131.56" y1="895.9" x2="134.95" y2="895.9" stroke="#000" stroke-width="1.6"/>
<line x1="148.24" y1="875.2" x2="148.24" y2="901.9" stroke="#000" stroke-width="1.6"/>
<line x1="146.54" y1="901.9" x2="149.94" y2="901.9" stroke="#000" stroke-width="1.6"/>
<line x1="163.22" y1="876.5" x2="163.22" y2="896.6" stroke="#000" stroke-width="1.6"/>
<line x1="161.53" y1="896.6" x2="164.92" y2="896.6" stroke="#000" stroke-width="1.6"/>
<line x1="178.21" y1="879.2" x2="178.21" y2="901.9" stroke="#000" stroke-width="1.6"/>
<line x1="176.51" y1="901.9" x2="179.91" y2="901.9" stroke="#000" stroke-width="1.6"/>
<line x1="193.19" y1="865.1" x2="193.19" y2="897.1" stroke="#000" stroke-width="1.6"/>
<line x1="191.5" y1="897.1" x2="194.89" y2="897.1" stroke="#000" stroke-width="1.6"/>
<line x1="208.18" y1="871.2" x2="208.18" y2="901.4" stroke="#000" stroke-width="1.6"/>
<line x1="206.48" y1="901.4" x2="209.88" y2="901.4" stroke="#000" stroke-width="1.6"/>
<line x1="223.17" y1="880.5" x2="223.17" y2="899.1" stroke="#000" stroke-width="1.6"/>
<line x1="221.47" y1="899.1" x2="224.87" y2="899.1" stroke="#000" stroke-width="1.6"/>
<line x1="238.15" y1="874.5" x2="238.15" y2="903.9" stroke="#000" stroke-width="1.6"/>
<line x1="236.45" y1="903.9" x2="239.85" y2="903.9" stroke="#000" stroke-width="1.6"/>
<line x1="253.13" y1="866.1" x2="253.13" y2="902.2" stroke="#000" stroke-width="1.6"/>
<line x1="251.44" y1="902.2" x2="254.83" y2="902.2" stroke="#000" stroke-width="1.6"/>
<line x1="268.12" y1="844" x2="268.12" y2="879.5" stroke="#000" stroke-width="1.6"/>
<line x1="266.42" y1="879.5" x2="269.82" y2="879.5" stroke="#000" stroke-width="1.6"/>
<line x1="283.11" y1="845.5" x2="283.11" y2="888.8" stroke="#000" stroke-width="1.6"/>
<line x1="281.41" y1="888.8" x2="284.81" y2="888.8" stroke="#000" stroke-width="1.6"/>
<line x1="298.09" y1="846.2" x2="298.09" y2="880.8" stroke="#000" stroke-width="1.6"/>
<line x1="296.39" y1="880.8" x2="299.79" y2="880.8" stroke="#000" stroke-width="1.6"/>
<line x1="313.07" y1="863.9" x2="313.07" y2="897.1" stroke="#000" stroke-width="1.6"/>
<line x1="311.38" y1="897.1" x2="314.77" y2="897.1" stroke="#000" stroke-width="1.6"/>
<line x1="328.06" y1="822.1" x2="328.06" y2="933.3" stroke="#000" stroke-width="1.6"/>
<line x1="326.36" y1="933.3" x2="329.76" y2="933.3" stroke="#000" stroke-width="1.6"/>
<line x1="343.05" y1="848.8" x2="343.05" y2="882.8" stroke="#000" stroke-width="1.6"/>
<line x1="341.35" y1="882.8" x2="344.75" y2="882.8" stroke="#000" stroke-width="1.6"/>
<line x1="358.03" y1="856.8" x2="358.03" y2="900.4" stroke="#000" stroke-width="1.6"/>
<line x1="356.33" y1="900.4" x2="359.73" y2="900.4" stroke="#000" stroke-width="1.6"/>
<line x1="373.01" y1="857.6" x2="373.01" y2="889.6" stroke="#000" stroke-width="1.6"/>
<line x1="371.31" y1="889.6" x2="374.71" y2="889.6" stroke="#000" stroke-width="1.6"/>
<line x1="388" y1="860.4" x2="388" y2="893.9" stroke="#000" stroke-width="1.6"/>
<line x1="386.3" y1="893.9" x2="389.7" y2="893.9" stroke="#000" stroke-width="1.6"/>
<line x1="402.99" y1="854.3" x2="402.99" y2="895.9" stroke="#000" stroke-width="1.6"/>
<line x1="401.29" y1="895.9" x2="404.69" y2="895.9" stroke="#000" stroke-width="1.6"/>
<line x1="417.97" y1="857.3" x2="417.97" y2="901.7" stroke="#000" stroke-width="1.6"/>
<line x1="416.27" y1="901.7" x2="419.67" y2="901.7" stroke="#000" stroke-width="1.6"/>
<polyline points="58.2,869 59.4,861.3 60.5,861.5 61.8,862.6 62.8,722.7 65,801.2 67.5,835.8 69.7,861.2 71.9,874.7 88.3,878.9 103.28,881.7 118.27,899.4 133.25,882.5 148.24,875.2 163.22,876.5 178.21,879.2 193.19,865.1 208.18,871.2 223.17,880.5 238.15,874.5 253.13,866.1 268.12,844 283.11,845.5 298.09,846.2 313.07,863.9 328.06,822.1 343.05,848.8 358.03,856.8 373.01,857.6 388,860.4 402.99,854.3 417.97,857.3" fill="none" stroke="#000" stroke-width="1.7" stroke-linejoin="round"/>
<circle cx="58.2" cy="869" r="2.85" fill="#000"/>
<circle cx="59.4" cy="861.3" r="2.85" fill="#000"/>
<circle cx="60.5" cy="861.5" r="2.85" fill="#000"/>
<circle cx="61.8" cy="862.6" r="2.85" fill="#000"/>
<circle cx="62.8" cy="722.7" r="2.85" fill="#000"/>
<circle cx="65" cy="801.2" r="2.85" fill="#000"/>
<circle cx="67.5" cy="835.8" r="2.85" fill="#000"/>
<circle cx="69.7" cy="861.2" r="2.85" fill="#000"/>
<circle cx="71.9" cy="874.7" r="2.85" fill="#000"/>
<circle cx="88.3" cy="878.9" r="2.85" fill="#000"/>
<circle cx="103.28" cy="881.7" r="2.85" fill="#000"/>
<circle cx="118.27" cy="899.4" r="2.85" fill="#000"/>
<circle cx="133.25" cy="882.5" r="2.85" fill="#000"/>
<circle cx="148.24" cy="875.2" r="2.85" fill="#000"/>
<circle cx="163.22" cy="876.5" r="2.85" fill="#000"/>
<circle cx="178.21" cy="879.2" r="2.85" fill="#000"/>
<circle cx="193.19" cy="865.1" r="2.85" fill="#000"/>
<circle cx="208.18" cy="871.2" r="2.85" fill="#000"/>
<circle cx="223.17" cy="880.5" r="2.85" fill="#000"/>
<circle cx="238.15" cy="874.5" r="2.85" fill="#000"/>
<circle cx="253.13" cy="866.1" r="2.85" fill="#000"/>
<circle cx="268.12" cy="844" r="2.85" fill="#000"/>
<circle cx="283.11" cy="845.5" r="2.85" fill="#000"/>
<circle cx="298.09" cy="846.2" r="2.85" fill="#000"/>
<circle cx="313.07" cy="863.9" r="2.85" fill="#000"/>
<circle cx="328.06" cy="822.1" r="2.85" fill="#000"/>
<circle cx="343.05" cy="848.8" r="2.85" fill="#000"/>
<circle cx="358.03" cy="856.8" r="2.85" fill="#000"/>
<circle cx="373.01" cy="857.6" r="2.85" fill="#000"/>
<circle cx="388" cy="860.4" r="2.85" fill="#000"/>
<circle cx="402.99" cy="854.3" r="2.85" fill="#000"/>
<circle cx="417.97" cy="857.3" r="2.85" fill="#000"/>
<line x1="431.7" y1="827.6" x2="437" y2="827.6" stroke="#000" stroke-width="1.6"/>
<line x1="443.2" y1="827.6" x2="447.6" y2="827.6" stroke="#000" stroke-width="1.6"/>
<circle cx="440.9" cy="827.6" r="2.2" fill="#fff" stroke="#222" stroke-width="1"/>
<text x="451.5" y="831.7" font-size="12" text-anchor="start" font-weight="normal" textLength="39.65" lengthAdjust="spacingAndGlyphs" stroke="#000" stroke-width="0.22">Control</text>
<line x1="431.7" y1="845.3" x2="449.7" y2="845.3" stroke="#000" stroke-width="1.7"/>
<circle cx="440.9" cy="845.3" r="2.6" fill="#000"/>
<text x="451.5" y="849.3" font-size="12" text-anchor="start" font-weight="normal" textLength="61.54" lengthAdjust="spacingAndGlyphs" stroke="#000" stroke-width="0.22">Brain Dead</text>
</g>
</svg>
</body>
</html>
